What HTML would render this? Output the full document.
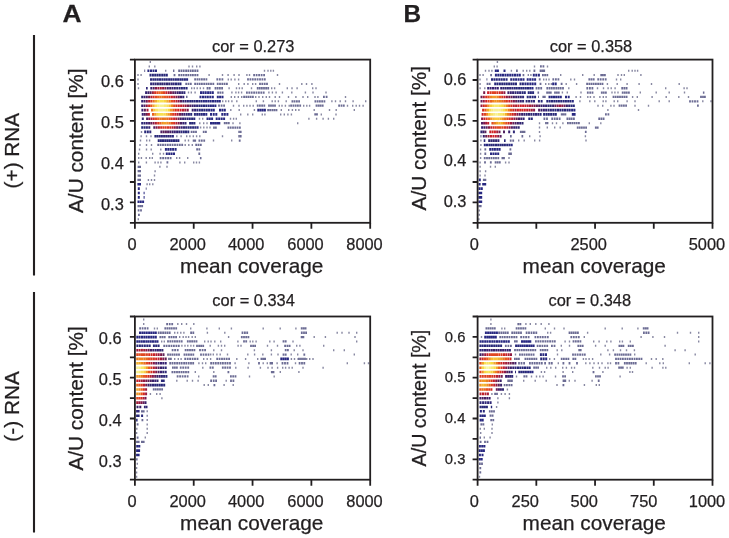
<!DOCTYPE html>
<html><head><meta charset="utf-8"><style>
html,body{margin:0;padding:0;background:#fff;width:729px;height:538px;overflow:hidden}
svg{display:block;will-change:transform}
text{font-family:"Liberation Sans",sans-serif;fill:#221f20;stroke:#221f20;stroke-width:0.25px}
</style></head><body>
<svg width="729" height="538" viewBox="0 0 729 538">
<text transform="translate(62.5,21.8) scale(1.09,1)" font-size="24.2" font-weight="bold">A</text>
<text x="403.5" y="21.7" font-size="24.4" font-weight="bold">B</text>
<text transform="translate(18.8,150.6) rotate(-90)" text-anchor="middle" font-size="20.8">(+) RNA</text>
<text transform="translate(18.8,406.4) rotate(-90)" text-anchor="middle" font-size="20.8">(-) RNA</text>
<path d="M34 35V275.6M34 292.1V532.6" stroke="#221f20" stroke-width="2.1"/>
<path fill="#8888a2" d="M149.6 61.0h1.4v2.0h-1.4zM148.6 65.4h1.4v2.0h-1.4zM154.1 65.4h1.4v2.0h-1.4zM188.3 65.4h1.4v2.0h-1.4zM191.8 65.4h1.4v2.0h-1.4zM196.0 65.4h1.4v2.0h-1.4zM199.2 65.4h1.4v2.0h-1.4zM165.0 69.8h1.4v2.0h-1.4zM263.8 69.8h1.4v2.0h-1.4zM267.3 69.8h1.4v2.0h-1.4zM270.1 69.8h1.4v2.0h-1.4zM272.7 69.8h1.4v2.0h-1.4zM137.3 74.1h1.4v2.0h-1.4zM140.4 74.1h1.4v2.0h-1.4zM208.4 74.1h1.4v2.0h-1.4zM221.8 74.1h1.4v2.0h-1.4zM227.4 74.1h1.4v2.0h-1.4zM233.4 74.1h1.4v2.0h-1.4zM238.3 74.1h1.4v2.0h-1.4zM246.2 74.1h1.4v2.0h-1.4zM248.8 74.1h1.4v2.0h-1.4zM276.8 74.1h1.4v2.0h-1.4zM137.3 78.5h1.4v2.0h-1.4zM227.6 78.5h1.4v2.0h-1.4zM230.5 78.5h1.4v2.0h-1.4zM234.2 78.5h1.4v2.0h-1.4zM237.9 78.5h1.4v2.0h-1.4zM137.3 82.9h1.4v2.0h-1.4zM238.0 82.9h1.4v2.0h-1.4zM243.5 82.9h1.4v2.0h-1.4zM247.2 82.9h1.4v2.0h-1.4zM252.0 82.9h1.4v2.0h-1.4zM254.9 82.9h1.4v2.0h-1.4zM278.8 82.9h1.4v2.0h-1.4zM301.1 82.9h1.4v2.0h-1.4zM305.8 82.9h1.4v2.0h-1.4zM311.2 82.9h1.4v2.0h-1.4zM137.8 87.2h1.4v2.0h-1.4zM191.0 87.2h1.4v2.0h-1.4zM193.6 87.2h1.4v2.0h-1.4zM196.5 87.2h1.4v2.0h-1.4zM199.6 87.2h1.4v2.0h-1.4zM202.8 87.2h1.4v2.0h-1.4zM228.4 87.2h1.4v2.0h-1.4zM235.8 87.2h1.4v2.0h-1.4zM238.7 87.2h1.4v2.0h-1.4zM241.5 87.2h1.4v2.0h-1.4zM250.8 87.2h1.4v2.0h-1.4zM271.0 87.2h1.4v2.0h-1.4zM273.9 87.2h1.4v2.0h-1.4zM286.6 87.2h1.4v2.0h-1.4zM291.3 87.2h1.4v2.0h-1.4zM296.4 87.2h1.4v2.0h-1.4zM312.0 87.2h1.4v2.0h-1.4zM315.3 87.2h1.4v2.0h-1.4zM187.8 91.6h1.4v2.0h-1.4zM190.6 91.6h1.4v2.0h-1.4zM194.4 91.6h1.4v2.0h-1.4zM231.2 91.6h1.4v2.0h-1.4zM235.2 91.6h1.4v2.0h-1.4zM237.9 91.6h1.4v2.0h-1.4zM240.9 91.6h1.4v2.0h-1.4zM268.2 91.6h1.4v2.0h-1.4zM271.7 91.6h1.4v2.0h-1.4zM275.4 91.6h1.4v2.0h-1.4zM281.7 91.6h1.4v2.0h-1.4zM291.1 91.6h1.4v2.0h-1.4zM304.7 91.6h1.4v2.0h-1.4zM312.3 91.6h1.4v2.0h-1.4zM325.3 91.6h1.4v2.0h-1.4zM230.6 96.0h1.4v2.0h-1.4zM234.0 96.0h1.4v2.0h-1.4zM237.6 96.0h1.4v2.0h-1.4zM241.0 96.0h1.4v2.0h-1.4zM255.0 96.0h1.4v2.0h-1.4zM258.3 96.0h1.4v2.0h-1.4zM262.0 96.0h1.4v2.0h-1.4zM265.6 96.0h1.4v2.0h-1.4zM268.8 96.0h1.4v2.0h-1.4zM274.5 96.0h1.4v2.0h-1.4zM278.8 96.0h1.4v2.0h-1.4zM287.8 96.0h1.4v2.0h-1.4zM295.2 96.0h1.4v2.0h-1.4zM302.3 96.0h1.4v2.0h-1.4zM307.0 96.0h1.4v2.0h-1.4zM314.3 96.0h1.4v2.0h-1.4zM317.2 96.0h1.4v2.0h-1.4zM344.8 96.0h1.4v2.0h-1.4zM222.0 100.3h1.4v2.0h-1.4zM225.1 100.3h1.4v2.0h-1.4zM227.9 100.3h1.4v2.0h-1.4zM231.2 100.3h1.4v2.0h-1.4zM236.1 100.3h1.4v2.0h-1.4zM255.6 100.3h1.4v2.0h-1.4zM262.7 100.3h1.4v2.0h-1.4zM271.5 100.3h1.4v2.0h-1.4zM274.5 100.3h1.4v2.0h-1.4zM277.7 100.3h1.4v2.0h-1.4zM285.5 100.3h1.4v2.0h-1.4zM331.2 100.3h1.4v2.0h-1.4zM334.8 100.3h1.4v2.0h-1.4zM339.5 100.3h1.4v2.0h-1.4zM344.8 100.3h1.4v2.0h-1.4zM352.4 100.3h1.4v2.0h-1.4zM365.0 100.3h1.4v2.0h-1.4zM232.8 104.7h1.4v2.0h-1.4zM238.3 104.7h1.4v2.0h-1.4zM243.0 104.7h1.4v2.0h-1.4zM246.2 104.7h1.4v2.0h-1.4zM249.3 104.7h1.4v2.0h-1.4zM252.5 104.7h1.4v2.0h-1.4zM278.6 104.7h1.4v2.0h-1.4zM281.3 104.7h1.4v2.0h-1.4zM284.7 104.7h1.4v2.0h-1.4zM288.5 104.7h1.4v2.0h-1.4zM303.0 104.7h1.4v2.0h-1.4zM306.1 104.7h1.4v2.0h-1.4zM308.9 104.7h1.4v2.0h-1.4zM346.8 104.7h1.4v2.0h-1.4zM352.0 104.7h1.4v2.0h-1.4zM355.5 104.7h1.4v2.0h-1.4zM358.8 104.7h1.4v2.0h-1.4zM362.4 104.7h1.4v2.0h-1.4zM230.1 109.1h1.4v2.0h-1.4zM238.5 109.1h1.4v2.0h-1.4zM253.7 109.1h1.4v2.0h-1.4zM280.6 109.1h1.4v2.0h-1.4zM288.0 109.1h1.4v2.0h-1.4zM291.7 109.1h1.4v2.0h-1.4zM295.0 109.1h1.4v2.0h-1.4zM298.2 109.1h1.4v2.0h-1.4zM313.5 109.1h1.4v2.0h-1.4zM328.8 109.1h1.4v2.0h-1.4zM335.5 109.1h1.4v2.0h-1.4zM353.6 109.1h1.4v2.0h-1.4zM240.0 113.4h1.4v2.0h-1.4zM247.1 113.4h1.4v2.0h-1.4zM252.0 113.4h1.4v2.0h-1.4zM261.6 113.4h1.4v2.0h-1.4zM264.2 113.4h1.4v2.0h-1.4zM280.0 113.4h1.4v2.0h-1.4zM283.6 113.4h1.4v2.0h-1.4zM287.2 113.4h1.4v2.0h-1.4zM290.7 113.4h1.4v2.0h-1.4zM320.6 113.4h1.4v2.0h-1.4zM335.3 113.4h1.4v2.0h-1.4zM198.8 117.8h1.4v2.0h-1.4zM202.0 117.8h1.4v2.0h-1.4zM229.8 117.8h1.4v2.0h-1.4zM232.9 117.8h1.4v2.0h-1.4zM235.6 117.8h1.4v2.0h-1.4zM308.2 117.8h1.4v2.0h-1.4zM315.9 117.8h1.4v2.0h-1.4zM322.4 117.8h1.4v2.0h-1.4zM327.7 117.8h1.4v2.0h-1.4zM333.0 117.8h1.4v2.0h-1.4zM199.1 122.2h1.4v2.0h-1.4zM203.0 122.2h1.4v2.0h-1.4zM206.3 122.2h1.4v2.0h-1.4zM232.3 122.2h1.4v2.0h-1.4zM239.2 122.2h1.4v2.0h-1.4zM297.0 122.2h1.4v2.0h-1.4zM199.9 126.5h1.4v2.0h-1.4zM203.1 126.5h1.4v2.0h-1.4zM206.3 126.5h1.4v2.0h-1.4zM209.3 126.5h1.4v2.0h-1.4zM140.8 130.9h1.4v2.0h-1.4zM140.4 135.3h1.4v2.0h-1.4zM145.8 135.3h1.4v2.0h-1.4zM150.3 135.3h1.4v2.0h-1.4zM176.1 135.3h1.4v2.0h-1.4zM180.4 135.3h1.4v2.0h-1.4zM186.0 135.3h1.4v2.0h-1.4zM189.2 135.3h1.4v2.0h-1.4zM192.6 135.3h1.4v2.0h-1.4zM195.9 135.3h1.4v2.0h-1.4zM199.1 135.3h1.4v2.0h-1.4zM221.8 135.3h1.4v2.0h-1.4zM139.8 139.6h1.4v2.0h-1.4zM146.0 139.6h1.4v2.0h-1.4zM148.9 139.6h1.4v2.0h-1.4zM184.5 139.6h1.4v2.0h-1.4zM187.8 139.6h1.4v2.0h-1.4zM212.8 139.6h1.4v2.0h-1.4zM231.0 139.6h1.4v2.0h-1.4zM139.3 144.0h1.4v2.0h-1.4zM145.8 144.0h1.4v2.0h-1.4zM150.8 144.0h1.4v2.0h-1.4zM184.5 144.0h1.4v2.0h-1.4zM188.1 144.0h1.4v2.0h-1.4zM191.6 144.0h1.4v2.0h-1.4zM138.8 148.4h1.4v2.0h-1.4zM145.8 148.4h1.4v2.0h-1.4zM150.5 148.4h1.4v2.0h-1.4zM160.1 148.4h1.4v2.0h-1.4zM138.0 152.7h1.4v2.0h-1.4zM152.0 152.7h1.4v2.0h-1.4zM159.4 152.7h1.4v2.0h-1.4zM162.8 152.7h1.4v2.0h-1.4zM138.0 157.1h1.4v2.0h-1.4zM140.7 157.1h1.4v2.0h-1.4zM145.5 157.1h1.4v2.0h-1.4zM149.0 157.1h1.4v2.0h-1.4zM151.6 157.1h1.4v2.0h-1.4zM176.0 157.1h1.4v2.0h-1.4zM178.9 157.1h1.4v2.0h-1.4zM187.0 157.1h1.4v2.0h-1.4zM138.0 161.5h1.4v2.0h-1.4zM145.7 161.5h1.4v2.0h-1.4zM154.4 161.5h1.4v2.0h-1.4zM157.4 161.5h1.4v2.0h-1.4zM160.2 161.5h1.4v2.0h-1.4zM179.2 161.5h1.4v2.0h-1.4zM184.0 161.5h1.4v2.0h-1.4zM193.0 161.5h1.4v2.0h-1.4zM195.8 161.5h1.4v2.0h-1.4zM198.7 161.5h1.4v2.0h-1.4zM159.2 165.8h1.4v2.0h-1.4zM166.3 165.8h1.4v2.0h-1.4zM154.4 170.2h1.4v2.0h-1.4zM153.8 174.6h1.4v2.0h-1.4zM147.7 178.9h1.4v2.0h-1.4zM150.8 178.9h1.4v2.0h-1.4zM153.8 178.9h1.4v2.0h-1.4zM146.4 183.3h1.4v2.0h-1.4zM149.0 183.3h1.4v2.0h-1.4zM152.1 183.3h1.4v2.0h-1.4zM137.6 218.2h1.4v2.0h-1.4z"/>
<path fill="#6c6c94" d="M144.2 69.6h1.0v2.3h-1.0zM173.0 69.6h1.4v2.3h-1.4zM178.2 69.6h1.8v2.3h-1.8zM180.5 69.6h1.8v2.3h-1.8zM182.8 69.6h1.8v2.3h-1.8zM185.2 69.6h1.8v2.3h-1.8zM187.4 69.6h1.8v2.3h-1.8zM189.8 69.6h1.8v2.3h-1.8zM192.0 69.6h1.8v2.3h-1.8zM194.3 69.6h1.8v2.3h-1.8zM196.6 69.6h1.8v2.3h-1.8zM173.6 74.0h1.8v2.3h-1.8zM178.2 74.0h1.8v2.3h-1.8zM180.5 74.0h1.8v2.3h-1.8zM182.8 74.0h1.8v2.3h-1.8zM185.2 74.0h1.8v2.3h-1.8zM187.4 74.0h1.8v2.3h-1.8zM189.8 74.0h1.8v2.3h-1.8zM192.0 74.0h1.8v2.3h-1.8zM194.3 74.0h1.8v2.3h-1.8zM196.6 74.0h1.8v2.3h-1.8zM253.2 74.0h1.8v2.3h-1.8zM255.7 74.0h1.8v2.3h-1.8zM258.2 74.0h1.8v2.3h-1.8zM260.7 74.0h1.8v2.3h-1.8zM263.2 74.0h1.8v2.3h-1.8zM194.2 78.3h1.8v2.3h-1.8zM196.5 78.3h1.8v2.3h-1.8zM198.7 78.3h1.8v2.3h-1.8zM201.0 78.3h1.8v2.3h-1.8zM203.2 78.3h1.8v2.3h-1.8zM205.5 78.3h1.8v2.3h-1.8zM216.4 78.3h1.8v2.3h-1.8zM218.9 78.3h1.8v2.3h-1.8zM221.5 78.3h1.8v2.3h-1.8zM247.1 78.3h1.8v2.3h-1.8zM249.5 78.3h1.8v2.3h-1.8zM251.9 78.3h1.8v2.3h-1.8zM254.3 78.3h1.8v2.3h-1.8zM256.7 78.3h1.8v2.3h-1.8zM259.1 78.3h1.8v2.3h-1.8zM261.5 78.3h1.8v2.3h-1.8zM263.9 78.3h1.8v2.3h-1.8zM185.3 82.7h1.8v2.3h-1.8zM187.6 82.7h1.8v2.3h-1.8zM189.9 82.7h1.8v2.3h-1.8zM194.2 82.7h1.8v2.3h-1.8zM196.5 82.7h1.8v2.3h-1.8zM198.8 82.7h1.8v2.3h-1.8zM201.0 82.7h1.8v2.3h-1.8zM203.3 82.7h1.8v2.3h-1.8zM205.6 82.7h1.8v2.3h-1.8zM207.8 82.7h1.8v2.3h-1.8zM210.1 82.7h1.8v2.3h-1.8zM212.4 82.7h1.8v2.3h-1.8zM216.8 82.7h1.8v2.3h-1.8zM219.1 82.7h1.8v2.3h-1.8zM221.4 82.7h1.8v2.3h-1.8zM223.7 82.7h1.8v2.3h-1.8zM226.0 82.7h1.8v2.3h-1.8zM259.1 82.7h1.8v2.3h-1.8zM261.4 82.7h1.8v2.3h-1.8zM263.8 82.7h1.8v2.3h-1.8zM266.1 82.7h1.8v2.3h-1.8zM206.6 87.1h1.8v2.3h-1.8zM208.8 87.1h1.8v2.3h-1.8zM214.6 87.1h1.8v2.3h-1.8zM216.8 87.1h1.8v2.3h-1.8zM219.0 87.1h1.8v2.3h-1.8zM221.2 87.1h1.8v2.3h-1.8zM256.8 87.1h1.8v2.3h-1.8zM258.9 87.1h1.8v2.3h-1.8zM261.0 87.1h1.8v2.3h-1.8zM263.1 87.1h1.8v2.3h-1.8zM265.2 87.1h1.8v2.3h-1.8zM267.3 87.1h1.8v2.3h-1.8zM217.2 91.4h1.8v2.3h-1.8zM219.4 91.4h1.8v2.3h-1.8zM221.7 91.4h1.8v2.3h-1.8zM246.0 91.4h1.8v2.3h-1.8zM248.4 91.4h1.8v2.3h-1.8zM250.8 91.4h1.8v2.3h-1.8zM253.2 91.4h1.8v2.3h-1.8zM255.6 91.4h1.8v2.3h-1.8zM258.0 91.4h1.8v2.3h-1.8zM260.4 91.4h1.8v2.3h-1.8zM262.8 91.4h1.8v2.3h-1.8zM186.0 95.8h1.5v2.3h-1.5zM243.2 95.8h1.8v2.3h-1.8zM245.4 95.8h1.8v2.3h-1.8zM247.6 95.8h1.8v2.3h-1.8zM249.8 95.8h1.8v2.3h-1.8zM252.0 95.8h1.8v2.3h-1.8zM323.0 95.8h1.8v2.3h-1.8zM325.7 95.8h1.8v2.3h-1.8zM291.5 100.2h1.8v2.3h-1.8zM293.7 100.2h1.8v2.3h-1.8zM296.0 100.2h1.8v2.3h-1.8zM298.2 100.2h1.8v2.3h-1.8zM314.5 100.2h1.8v2.3h-1.8zM316.8 100.2h1.8v2.3h-1.8zM319.0 100.2h1.8v2.3h-1.8zM321.2 100.2h1.8v2.3h-1.8zM323.5 100.2h1.8v2.3h-1.8zM218.1 104.5h1.8v2.3h-1.8zM220.7 104.5h1.8v2.3h-1.8zM223.2 104.5h1.8v2.3h-1.8zM256.8 104.5h1.8v2.3h-1.8zM259.0 104.5h1.8v2.3h-1.8zM261.2 104.5h1.8v2.3h-1.8zM263.4 104.5h1.8v2.3h-1.8zM268.1 104.5h1.8v2.3h-1.8zM270.1 104.5h1.8v2.3h-1.8zM272.1 104.5h1.8v2.3h-1.8zM274.1 104.5h1.8v2.3h-1.8zM290.2 104.5h1.8v2.3h-1.8zM292.5 104.5h1.8v2.3h-1.8zM294.8 104.5h1.8v2.3h-1.8zM297.0 104.5h1.8v2.3h-1.8zM299.3 104.5h1.8v2.3h-1.8zM315.6 104.5h1.8v2.3h-1.8zM317.7 104.5h1.8v2.3h-1.8zM319.7 104.5h1.8v2.3h-1.8zM321.8 104.5h1.8v2.3h-1.8zM338.2 104.5h1.8v2.3h-1.8zM340.6 104.5h1.8v2.3h-1.8zM342.9 104.5h1.8v2.3h-1.8zM267.2 108.9h1.8v2.3h-1.8zM269.2 108.9h1.8v2.3h-1.8zM271.4 108.9h1.8v2.3h-1.8zM273.5 108.9h1.8v2.3h-1.8zM275.6 108.9h1.8v2.3h-1.8zM314.3 113.3h1.8v2.3h-1.8zM316.1 113.3h1.8v2.3h-1.8zM223.8 122.0h1.8v2.3h-1.8zM225.8 122.0h1.8v2.3h-1.8zM227.9 122.0h1.8v2.3h-1.8zM213.1 126.4h1.8v2.3h-1.8zM215.0 126.4h1.8v2.3h-1.8zM227.5 126.4h1.8v2.3h-1.8zM229.8 126.4h1.8v2.3h-1.8zM232.1 126.4h1.8v2.3h-1.8zM234.4 126.4h1.8v2.3h-1.8zM236.7 126.4h1.8v2.3h-1.8zM239.0 126.4h1.8v2.3h-1.8zM190.7 130.7h1.8v2.3h-1.8zM192.9 130.7h1.8v2.3h-1.8zM195.1 130.7h1.8v2.3h-1.8zM202.8 130.7h1.8v2.3h-1.8zM205.0 130.7h1.8v2.3h-1.8zM238.3 130.7h1.6v2.3h-1.6zM240.0 130.7h1.6v2.3h-1.6zM238.3 135.1h1.6v2.3h-1.6zM240.0 135.1h1.6v2.3h-1.6zM192.7 139.5h1.7v2.3h-1.7zM194.4 139.5h1.7v2.3h-1.7zM198.5 139.5h1.8v2.3h-1.8zM200.9 139.5h1.8v2.3h-1.8zM203.3 139.5h1.8v2.3h-1.8zM238.8 139.5h1.8v2.3h-1.8zM157.3 143.8h1.8v2.3h-1.8zM159.7 143.8h1.8v2.3h-1.8zM162.1 143.8h1.8v2.3h-1.8zM164.5 143.8h1.8v2.3h-1.8zM166.9 143.8h1.8v2.3h-1.8zM169.3 143.8h1.8v2.3h-1.8zM171.7 143.8h1.8v2.3h-1.8zM174.1 143.8h1.8v2.3h-1.8zM176.5 143.8h1.8v2.3h-1.8zM178.9 143.8h1.8v2.3h-1.8zM181.3 143.8h1.8v2.3h-1.8zM195.3 143.8h1.8v2.3h-1.8zM197.6 143.8h1.8v2.3h-1.8zM199.9 143.8h1.8v2.3h-1.8zM196.2 148.2h1.8v2.3h-1.8zM198.4 148.2h1.8v2.3h-1.8zM198.4 152.6h1.8v2.3h-1.8zM159.7 156.9h1.8v2.3h-1.8zM162.2 156.9h1.8v2.3h-1.8zM164.7 156.9h1.8v2.3h-1.8zM167.2 156.9h1.8v2.3h-1.8zM169.7 156.9h1.8v2.3h-1.8zM199.9 156.9h1.6v2.3h-1.6zM166.5 161.3h1.8v2.3h-1.8zM137.6 165.7h1.7v2.3h-1.7zM139.3 165.7h1.7v2.3h-1.7zM137.6 170.0h1.7v2.3h-1.7zM139.3 170.0h1.7v2.3h-1.7zM137.6 174.4h1.7v2.3h-1.7zM139.3 174.4h1.7v2.3h-1.7zM137.4 178.8h1.8v2.3h-1.8zM139.2 178.8h1.8v2.3h-1.8zM145.7 187.5h1.0v2.3h-1.0zM137.5 205.0h1.8v2.3h-1.8zM139.4 205.0h1.8v2.3h-1.8zM141.3 205.0h1.8v2.3h-1.8zM137.7 209.3h1.8v2.3h-1.8zM140.1 209.3h1.8v2.3h-1.8zM138.0 213.7h1.8v2.3h-1.8z"/>
<path fill="#282880" d="M147.4 69.5h2.0v2.6h-2.0zM150.0 69.5h2.0v2.6h-2.0zM152.5 69.5h2.0v2.6h-2.0zM155.0 69.5h2.0v2.6h-2.0zM186.1 78.2h2.0v2.6h-2.0zM200.0 91.3h2.0v2.6h-2.0zM202.3 91.3h2.0v2.6h-2.0zM204.7 91.3h2.0v2.6h-2.0zM207.1 91.3h2.0v2.6h-2.0zM209.4 91.3h2.0v2.6h-2.0zM211.8 91.3h2.0v2.6h-2.0zM199.5 95.7h2.0v2.6h-2.0zM202.0 95.7h2.0v2.6h-2.0zM204.4 95.7h2.0v2.6h-2.0zM206.8 95.7h2.0v2.6h-2.0zM209.3 95.7h2.0v2.6h-2.0zM211.8 95.7h2.0v2.6h-2.0zM216.8 95.7h2.0v2.6h-2.0zM219.1 95.7h2.0v2.6h-2.0zM221.5 95.7h2.0v2.6h-2.0zM202.9 100.0h2.0v2.6h-2.0zM205.1 100.0h2.0v2.6h-2.0zM207.4 100.0h2.0v2.6h-2.0zM209.7 100.0h2.0v2.6h-2.0zM212.0 100.0h2.0v2.6h-2.0zM214.3 100.0h2.0v2.6h-2.0zM216.6 100.0h2.0v2.6h-2.0zM218.8 100.0h2.0v2.6h-2.0zM207.6 104.4h2.0v2.6h-2.0zM209.9 104.4h2.0v2.6h-2.0zM212.1 104.4h2.0v2.6h-2.0zM214.4 104.4h2.0v2.6h-2.0zM208.1 108.8h2.0v2.6h-2.0zM210.5 108.8h2.0v2.6h-2.0zM212.8 108.8h2.0v2.6h-2.0zM219.0 108.8h2.0v2.6h-2.0zM221.4 108.8h2.0v2.6h-2.0zM223.8 108.8h2.0v2.6h-2.0zM257.3 108.8h2.0v2.6h-2.0zM259.5 108.8h2.0v2.6h-2.0zM261.7 108.8h2.0v2.6h-2.0zM263.9 108.8h2.0v2.6h-2.0zM203.0 113.1h2.0v2.6h-2.0zM205.3 113.1h2.0v2.6h-2.0zM210.0 113.1h2.0v2.6h-2.0zM212.7 113.1h2.0v2.6h-2.0zM215.3 113.1h2.0v2.6h-2.0zM221.3 113.1h2.0v2.6h-2.0zM223.8 113.1h2.0v2.6h-2.0zM226.4 113.1h2.0v2.6h-2.0zM206.5 117.5h2.0v2.6h-2.0zM208.8 117.5h2.0v2.6h-2.0zM211.1 117.5h2.0v2.6h-2.0zM215.7 117.5h2.0v2.6h-2.0zM218.2 117.5h2.0v2.6h-2.0zM220.7 117.5h2.0v2.6h-2.0zM223.1 117.5h2.0v2.6h-2.0zM210.0 121.9h2.0v2.6h-2.0zM212.1 121.9h2.0v2.6h-2.0zM214.2 121.9h2.0v2.6h-2.0zM216.3 121.9h2.0v2.6h-2.0zM218.3 121.9h2.0v2.6h-2.0zM196.6 126.2h2.0v2.6h-2.0zM164.9 148.1h2.0v2.6h-2.0zM167.3 148.1h2.0v2.6h-2.0zM169.7 148.1h2.0v2.6h-2.0zM172.1 148.1h2.0v2.6h-2.0zM174.6 148.1h2.0v2.6h-2.0zM165.8 152.4h2.0v2.6h-2.0zM168.2 152.4h2.0v2.6h-2.0zM170.6 152.4h2.0v2.6h-2.0zM173.0 152.4h2.0v2.6h-2.0zM137.4 183.0h1.8v2.6h-1.8zM139.2 183.0h1.8v2.6h-1.8zM137.8 187.3h2.0v2.6h-2.0zM137.8 191.7h2.0v2.6h-2.0zM143.6 191.7h1.0v2.6h-1.0zM137.8 196.1h2.0v2.6h-2.0zM143.6 196.1h1.0v2.6h-1.0zM137.5 200.4h2.0v2.6h-2.0zM139.8 200.4h2.0v2.6h-2.0zM142.1 200.4h2.0v2.6h-2.0z"/>
<path fill="#282878" d="M149.5 73.8h2.0v2.6h-2.0zM151.9 73.8h2.0v2.6h-2.0zM154.2 73.8h2.0v2.6h-2.0zM156.5 73.8h2.0v2.6h-2.0zM158.8 73.8h2.0v2.6h-2.0zM161.2 73.8h2.0v2.6h-2.0zM163.5 73.8h2.0v2.6h-2.0zM165.8 73.8h2.0v2.6h-2.0zM150.0 78.2h2.0v2.6h-2.0zM152.3 78.2h2.0v2.6h-2.0zM154.5 78.2h2.0v2.6h-2.0zM156.8 78.2h2.0v2.6h-2.0zM159.0 78.2h2.0v2.6h-2.0zM161.3 78.2h2.0v2.6h-2.0zM163.6 78.2h2.0v2.6h-2.0zM165.8 78.2h2.0v2.6h-2.0zM168.1 78.2h2.0v2.6h-2.0zM170.3 78.2h2.0v2.6h-2.0zM172.6 78.2h2.0v2.6h-2.0zM174.9 78.2h2.0v2.6h-2.0zM177.1 78.2h2.0v2.6h-2.0zM179.4 78.2h2.0v2.6h-2.0zM181.6 78.2h2.0v2.6h-2.0zM183.9 78.2h2.0v2.6h-2.0zM175.0 82.6h2.0v2.6h-2.0zM177.3 82.6h2.0v2.6h-2.0zM179.5 82.6h2.0v2.6h-2.0zM180.9 86.9h2.0v2.6h-2.0zM183.2 86.9h2.0v2.6h-2.0zM185.6 86.9h2.0v2.6h-2.0zM189.2 100.0h2.0v2.6h-2.0zM191.4 100.0h2.0v2.6h-2.0zM193.7 100.0h2.0v2.6h-2.0zM196.0 100.0h2.0v2.6h-2.0zM198.3 100.0h2.0v2.6h-2.0zM200.6 100.0h2.0v2.6h-2.0zM198.4 104.4h2.0v2.6h-2.0zM200.7 104.4h2.0v2.6h-2.0zM203.0 104.4h2.0v2.6h-2.0zM205.3 104.4h2.0v2.6h-2.0zM198.8 108.8h2.0v2.6h-2.0zM201.1 108.8h2.0v2.6h-2.0zM203.4 108.8h2.0v2.6h-2.0zM205.8 108.8h2.0v2.6h-2.0zM190.2 113.1h2.0v2.6h-2.0zM193.9 113.1h2.0v2.6h-2.0zM196.2 113.1h2.0v2.6h-2.0zM198.5 113.1h2.0v2.6h-2.0zM200.8 113.1h2.0v2.6h-2.0zM188.8 117.5h2.0v2.6h-2.0zM191.1 117.5h2.0v2.6h-2.0zM193.3 117.5h2.0v2.6h-2.0zM189.1 121.9h2.0v2.6h-2.0zM191.2 121.9h2.0v2.6h-2.0zM193.4 121.9h2.0v2.6h-2.0zM141.2 126.2h2.0v2.6h-2.0zM143.6 126.2h2.0v2.6h-2.0zM187.5 126.2h2.0v2.6h-2.0zM189.8 126.2h2.0v2.6h-2.0zM192.1 126.2h2.0v2.6h-2.0zM194.4 126.2h2.0v2.6h-2.0zM144.2 130.6h2.0v2.6h-2.0zM146.8 130.6h2.0v2.6h-2.0zM182.8 130.6h2.0v2.6h-2.0zM185.0 130.6h2.0v2.6h-2.0zM187.3 130.6h2.0v2.6h-2.0zM154.4 135.0h2.0v2.6h-2.0zM156.6 135.0h2.0v2.6h-2.0zM171.9 135.0h2.0v2.6h-2.0zM157.7 139.3h2.0v2.6h-2.0zM159.9 139.3h2.0v2.6h-2.0zM162.0 139.3h2.0v2.6h-2.0zM164.2 139.3h2.0v2.6h-2.0zM166.4 139.3h2.0v2.6h-2.0zM168.6 139.3h2.0v2.6h-2.0zM170.8 139.3h2.0v2.6h-2.0zM173.0 139.3h2.0v2.6h-2.0zM175.2 139.3h2.0v2.6h-2.0zM177.4 139.3h2.0v2.6h-2.0z"/>
<path fill="#302878" d="M150.1 82.6h2.0v2.6h-2.0zM152.4 82.6h2.0v2.6h-2.0zM170.5 82.6h2.0v2.6h-2.0zM172.7 82.6h2.0v2.6h-2.0zM146.0 86.9h1.7v2.6h-1.7zM178.6 86.9h2.0v2.6h-2.0zM183.4 91.3h2.0v2.6h-2.0zM186.9 100.0h2.0v2.6h-2.0zM196.1 104.4h2.0v2.6h-2.0zM196.4 108.8h2.0v2.6h-2.0zM187.9 113.1h2.0v2.6h-2.0zM186.6 117.5h2.0v2.6h-2.0zM141.2 121.9h2.0v2.6h-2.0zM145.9 126.2h2.0v2.6h-2.0zM185.2 126.2h2.0v2.6h-2.0zM149.3 130.6h2.0v2.6h-2.0zM180.5 130.6h2.0v2.6h-2.0zM158.7 135.0h2.0v2.6h-2.0zM160.9 135.0h2.0v2.6h-2.0zM163.1 135.0h2.0v2.6h-2.0zM165.3 135.0h2.0v2.6h-2.0zM167.5 135.0h2.0v2.6h-2.0zM169.7 135.0h2.0v2.6h-2.0z"/>
<path fill="#302870" d="M154.6 82.6h2.0v2.6h-2.0zM156.9 82.6h2.0v2.6h-2.0zM159.2 82.6h2.0v2.6h-2.0zM161.4 82.6h2.0v2.6h-2.0zM163.7 82.6h2.0v2.6h-2.0zM166.0 82.6h2.0v2.6h-2.0zM168.2 82.6h2.0v2.6h-2.0zM176.2 86.9h2.0v2.6h-2.0zM181.2 91.3h2.0v2.6h-2.0zM141.2 95.7h2.0v2.6h-2.0zM185.7 113.1h2.0v2.6h-2.0zM141.8 117.5h2.0v2.6h-2.0zM184.3 117.5h2.0v2.6h-2.0zM143.5 121.9h2.0v2.6h-2.0zM184.5 121.9h2.0v2.6h-2.0zM183.0 126.2h2.0v2.6h-2.0zM178.3 130.6h2.0v2.6h-2.0z"/>
<path fill="#382070" d="M150.3 86.9h2.0v2.6h-2.0zM171.5 86.9h2.0v2.6h-2.0zM143.5 95.7h2.0v2.6h-2.0zM141.2 104.4h2.0v2.6h-2.0zM141.4 108.8h2.0v2.6h-2.0zM141.7 113.1h2.0v2.6h-2.0zM183.4 113.1h2.0v2.6h-2.0zM182.1 117.5h2.0v2.6h-2.0zM145.8 121.9h2.0v2.6h-2.0zM182.3 121.9h2.0v2.6h-2.0zM180.7 126.2h2.0v2.6h-2.0zM173.8 130.6h2.0v2.6h-2.0z"/>
<path fill="#502060" d="M152.7 86.9h2.0v2.6h-2.0zM143.5 104.4h2.0v2.6h-2.0zM189.3 104.4h2.0v2.6h-2.0zM146.1 117.5h2.0v2.6h-2.0zM153.3 126.2h2.0v2.6h-2.0zM160.4 130.6h2.0v2.6h-2.0zM167.1 130.6h2.0v2.6h-2.0z"/>
<path fill="#801848" d="M155.0 86.9h2.0v2.6h-2.0zM169.9 91.3h2.0v2.6h-2.0zM175.5 95.7h2.0v2.6h-2.0zM177.7 121.9h2.0v2.6h-2.0zM155.6 126.2h2.0v2.6h-2.0z"/>
<path fill="#981840" d="M157.4 86.9h2.0v2.6h-2.0zM167.7 91.3h2.0v2.6h-2.0z"/>
<path fill="#a02038" d="M159.8 86.9h2.0v2.6h-2.0zM151.9 91.3h2.0v2.6h-2.0zM184.3 108.8h2.0v2.6h-2.0zM176.7 113.1h2.0v2.6h-2.0zM175.3 117.5h2.0v2.6h-2.0z"/>
<path fill="#901840" d="M162.1 86.9h2.0v2.6h-2.0zM145.8 104.4h2.0v2.6h-2.0zM184.7 104.4h2.0v2.6h-2.0zM173.8 126.2h2.0v2.6h-2.0z"/>
<path fill="#702050" d="M164.4 86.9h2.0v2.6h-2.0zM187.0 104.4h2.0v2.6h-2.0zM179.0 113.1h2.0v2.6h-2.0zM177.6 117.5h2.0v2.6h-2.0z"/>
<path fill="#402068" d="M166.8 86.9h2.0v2.6h-2.0zM143.5 100.0h2.0v2.6h-2.0zM179.8 117.5h2.0v2.6h-2.0zM148.1 121.9h2.0v2.6h-2.0zM178.4 126.2h2.0v2.6h-2.0z"/>
<path fill="#382068" d="M169.2 86.9h2.0v2.6h-2.0zM147.4 91.3h2.0v2.6h-2.0zM176.7 91.3h2.0v2.6h-2.0zM180.0 95.7h2.0v2.6h-2.0zM182.3 100.0h2.0v2.6h-2.0zM191.6 104.4h2.0v2.6h-2.0zM191.7 108.8h2.0v2.6h-2.0zM171.6 130.6h2.0v2.6h-2.0z"/>
<path fill="#302070" d="M173.8 86.9h2.0v2.6h-2.0zM145.1 91.3h2.0v2.6h-2.0zM178.9 91.3h2.0v2.6h-2.0zM182.3 95.7h2.0v2.6h-2.0zM141.2 100.0h2.0v2.6h-2.0zM184.6 100.0h2.0v2.6h-2.0zM193.8 104.4h2.0v2.6h-2.0zM194.1 108.8h2.0v2.6h-2.0zM148.3 126.2h2.0v2.6h-2.0zM176.1 130.6h2.0v2.6h-2.0z"/>
<path fill="#582058" d="M149.6 91.3h2.0v2.6h-2.0zM180.0 100.0h2.0v2.6h-2.0zM162.6 130.6h2.0v2.6h-2.0zM164.9 130.6h2.0v2.6h-2.0z"/>
<path fill="#d83020" d="M154.1 91.3h2.0v2.6h-2.0zM152.6 95.7h2.0v2.6h-2.0zM173.2 100.0h2.0v2.6h-2.0zM174.8 108.8h2.0v2.6h-2.0zM152.8 117.5h2.0v2.6h-2.0zM173.1 121.9h2.0v2.6h-2.0zM167.0 126.2h2.0v2.6h-2.0z"/>
<path fill="#e85020" d="M156.3 91.3h2.3v2.6h-2.3zM170.8 100.0h2.3v2.6h-2.3zM168.5 117.5h2.3v2.6h-2.3z"/>
<path fill="#e86820" d="M158.5 91.3h2.3v2.6h-2.3zM161.6 95.7h2.3v2.6h-2.3zM169.9 113.1h2.3v2.6h-2.3zM157.2 117.5h2.3v2.6h-2.3zM166.2 117.5h2.3v2.6h-2.3z"/>
<path fill="#e86020" d="M160.8 91.3h2.3v2.6h-2.3zM157.1 95.7h2.3v2.6h-2.3zM172.3 108.8h2.4v2.6h-2.4zM152.0 113.1h2.3v2.6h-2.3zM159.3 121.9h2.3v2.6h-2.3z"/>
<path fill="#e04020" d="M163.0 91.3h2.3v2.6h-2.3zM172.1 113.1h2.3v2.6h-2.3z"/>
<path fill="#c82028" d="M165.4 91.3h2.0v2.6h-2.0zM180.1 104.4h2.0v2.6h-2.0z"/>
<path fill="#602058" d="M172.2 91.3h2.0v2.6h-2.0zM143.9 108.8h2.0v2.6h-2.0zM150.3 121.9h2.0v2.6h-2.0z"/>
<path fill="#482060" d="M174.4 91.3h2.0v2.6h-2.0zM145.8 95.7h2.0v2.6h-2.0zM143.8 113.1h2.0v2.6h-2.0zM181.2 113.1h2.0v2.6h-2.0zM180.0 121.9h2.0v2.6h-2.0zM169.3 130.6h2.0v2.6h-2.0z"/>
<path fill="#781848" d="M148.1 95.7h2.0v2.6h-2.0zM186.7 108.8h2.0v2.6h-2.0zM145.9 113.1h2.0v2.6h-2.0z"/>
<path fill="#b02030" d="M150.4 95.7h2.0v2.6h-2.0zM182.4 104.4h2.0v2.6h-2.0zM154.9 121.9h2.0v2.6h-2.0zM175.4 121.9h2.0v2.6h-2.0zM157.9 126.2h2.0v2.6h-2.0z"/>
<path fill="#e04820" d="M154.8 95.7h2.3v2.6h-2.3zM166.2 95.7h2.3v2.6h-2.3zM173.1 104.4h2.3v2.6h-2.3z"/>
<path fill="#e87020" d="M159.3 95.7h2.3v2.6h-2.3zM152.5 100.0h2.3v2.6h-2.3zM161.7 117.5h2.3v2.6h-2.3z"/>
<path fill="#e85820" d="M163.9 95.7h2.3v2.6h-2.3zM150.2 104.4h2.3v2.6h-2.3z"/>
<path fill="#d83820" d="M168.6 95.7h2.0v2.6h-2.0zM150.3 100.0h2.0v2.6h-2.0zM170.8 117.5h2.0v2.6h-2.0zM157.2 121.9h2.0v2.6h-2.0zM162.4 126.2h2.0v2.6h-2.0zM164.7 126.2h2.0v2.6h-2.0z"/>
<path fill="#d02028" d="M170.9 95.7h2.0v2.6h-2.0zM177.8 104.4h2.0v2.6h-2.0zM179.6 108.8h2.0v2.6h-2.0zM174.5 113.1h2.0v2.6h-2.0zM173.1 117.5h2.0v2.6h-2.0z"/>
<path fill="#a82038" d="M173.2 95.7h2.0v2.6h-2.0zM146.5 108.8h2.0v2.6h-2.0z"/>
<path fill="#582060" d="M177.8 95.7h2.0v2.6h-2.0z"/>
<path fill="#781850" d="M145.8 100.0h2.0v2.6h-2.0z"/>
<path fill="#b82030" d="M148.1 100.0h2.0v2.6h-2.0zM175.5 100.0h2.0v2.6h-2.0zM147.9 113.1h2.0v2.6h-2.0zM150.6 117.5h2.0v2.6h-2.0zM171.6 126.2h2.0v2.6h-2.0z"/>
<path fill="#f0a830" d="M154.8 100.0h2.3v2.6h-2.3zM152.5 104.4h2.3v2.6h-2.3z"/>
<path fill="#f8d840" d="M157.1 100.0h2.3v2.6h-2.3zM167.6 108.8h2.4v2.6h-2.4z"/>
<path fill="#f8e050" d="M159.3 100.0h2.3v2.6h-2.3zM161.6 100.0h2.3v2.6h-2.3zM158.7 113.1h2.3v2.6h-2.3zM160.9 113.1h2.3v2.6h-2.3z"/>
<path fill="#f8d040" d="M163.9 100.0h2.3v2.6h-2.3zM156.5 113.1h2.3v2.6h-2.3z"/>
<path fill="#f0b030" d="M166.2 100.0h2.3v2.6h-2.3z"/>
<path fill="#f08020" d="M168.5 100.0h2.3v2.6h-2.3z"/>
<path fill="#881848" d="M177.7 100.0h2.0v2.6h-2.0zM148.3 117.5h2.0v2.6h-2.0zM152.6 121.9h2.0v2.6h-2.0z"/>
<path fill="#d02820" d="M148.1 104.4h2.0v2.6h-2.0zM175.5 104.4h2.0v2.6h-2.0zM177.2 108.8h2.0v2.6h-2.0zM160.2 126.2h2.0v2.6h-2.0zM169.3 126.2h2.0v2.6h-2.0z"/>
<path fill="#f8e058" d="M154.8 104.4h2.3v2.6h-2.3zM166.2 104.4h2.3v2.6h-2.3z"/>
<path fill="#f8f080" d="M157.1 104.4h2.3v2.6h-2.3z"/>
<path fill="#f8f090" d="M159.4 104.4h2.3v2.6h-2.3zM161.7 104.4h2.3v2.6h-2.3zM158.1 108.8h2.4v2.6h-2.4zM160.5 108.8h2.4v2.6h-2.4z"/>
<path fill="#f8e878" d="M164.0 104.4h2.3v2.6h-2.3z"/>
<path fill="#f8c038" d="M168.5 104.4h2.3v2.6h-2.3zM165.4 113.1h2.3v2.6h-2.3z"/>
<path fill="#f08820" d="M170.8 104.4h2.3v2.6h-2.3z"/>
<path fill="#e87820" d="M151.0 108.8h2.4v2.6h-2.4zM159.5 117.5h2.3v2.6h-2.3zM164.0 117.5h2.3v2.6h-2.3zM168.4 121.9h2.3v2.6h-2.3z"/>
<path fill="#f8c838" d="M153.3 108.8h2.4v2.6h-2.4z"/>
<path fill="#f8e868" d="M155.7 108.8h2.4v2.6h-2.4zM165.2 108.8h2.4v2.6h-2.4z"/>
<path fill="#f8f088" d="M162.8 108.8h2.4v2.6h-2.4z"/>
<path fill="#f0a028" d="M169.9 108.8h2.4v2.6h-2.4zM154.2 113.1h2.3v2.6h-2.3zM163.9 121.9h2.3v2.6h-2.3z"/>
<path fill="#c02030" d="M182.0 108.8h2.0v2.6h-2.0z"/>
<path fill="#f8d848" d="M163.2 113.1h2.3v2.6h-2.3z"/>
<path fill="#f09828" d="M167.6 113.1h2.3v2.6h-2.3z"/>
<path fill="#e05020" d="M155.0 117.5h2.3v2.6h-2.3zM170.7 121.9h2.3v2.6h-2.3z"/>
<path fill="#f09020" d="M161.6 121.9h2.3v2.6h-2.3z"/>
<path fill="#f09028" d="M166.2 121.9h2.3v2.6h-2.3z"/>
<path fill="#682058" d="M176.1 126.2h2.0v2.6h-2.0z"/>
<path fill="#8888a2" d="M496.7 61.0h1.4v2.0h-1.4zM493.6 65.4h1.4v2.0h-1.4zM496.4 65.4h1.4v2.0h-1.4zM533.8 65.4h1.4v2.0h-1.4zM546.8 65.4h1.4v2.0h-1.4zM484.8 69.8h1.4v2.0h-1.4zM488.3 69.8h1.4v2.0h-1.4zM491.2 69.8h1.4v2.0h-1.4zM510.7 69.8h1.4v2.0h-1.4zM522.5 69.8h1.4v2.0h-1.4zM526.0 69.8h1.4v2.0h-1.4zM529.1 69.8h1.4v2.0h-1.4zM628.0 69.8h1.4v2.0h-1.4zM631.5 69.8h1.4v2.0h-1.4zM634.3 69.8h1.4v2.0h-1.4zM636.9 69.8h1.4v2.0h-1.4zM479.3 74.1h1.4v2.0h-1.4zM482.4 74.1h1.4v2.0h-1.4zM527.6 74.1h1.4v2.0h-1.4zM530.2 74.1h1.4v2.0h-1.4zM560.0 74.1h1.4v2.0h-1.4zM582.0 74.1h1.4v2.0h-1.4zM593.5 74.1h1.4v2.0h-1.4zM617.3 74.1h1.4v2.0h-1.4zM620.8 74.1h1.4v2.0h-1.4zM623.6 74.1h1.4v2.0h-1.4zM640.2 74.1h1.4v2.0h-1.4zM479.3 78.5h1.4v2.0h-1.4zM543.0 78.5h1.4v2.0h-1.4zM545.6 78.5h1.4v2.0h-1.4zM548.3 78.5h1.4v2.0h-1.4zM570.1 78.5h1.4v2.0h-1.4zM573.8 78.5h1.4v2.0h-1.4zM615.8 78.5h1.4v2.0h-1.4zM620.0 78.5h1.4v2.0h-1.4zM479.4 82.9h1.4v2.0h-1.4zM545.0 82.9h1.4v2.0h-1.4zM548.1 82.9h1.4v2.0h-1.4zM550.7 82.9h1.4v2.0h-1.4zM565.5 82.9h1.4v2.0h-1.4zM575.9 82.9h1.4v2.0h-1.4zM606.7 82.9h1.4v2.0h-1.4zM616.5 82.9h1.4v2.0h-1.4zM626.4 82.9h1.4v2.0h-1.4zM638.4 82.9h1.4v2.0h-1.4zM650.8 82.9h1.4v2.0h-1.4zM678.5 82.9h1.4v2.0h-1.4zM479.4 87.2h1.4v2.0h-1.4zM484.1 87.2h1.4v2.0h-1.4zM568.1 87.2h1.4v2.0h-1.4zM596.8 87.2h1.4v2.0h-1.4zM602.8 87.2h1.4v2.0h-1.4zM607.4 87.2h1.4v2.0h-1.4zM610.5 87.2h1.4v2.0h-1.4zM614.4 87.2h1.4v2.0h-1.4zM665.0 87.2h1.4v2.0h-1.4zM683.4 87.2h1.4v2.0h-1.4zM686.3 87.2h1.4v2.0h-1.4zM561.7 91.6h1.4v2.0h-1.4zM566.6 91.6h1.4v2.0h-1.4zM580.3 91.6h1.4v2.0h-1.4zM611.3 91.6h1.4v2.0h-1.4zM614.2 91.6h1.4v2.0h-1.4zM617.3 91.6h1.4v2.0h-1.4zM639.6 91.6h1.4v2.0h-1.4zM655.5 91.6h1.4v2.0h-1.4zM668.5 91.6h1.4v2.0h-1.4zM683.8 91.6h1.4v2.0h-1.4zM575.4 96.0h1.4v2.0h-1.4zM579.8 96.0h1.4v2.0h-1.4zM587.1 96.0h1.4v2.0h-1.4zM589.7 96.0h1.4v2.0h-1.4zM593.3 96.0h1.4v2.0h-1.4zM599.2 96.0h1.4v2.0h-1.4zM602.6 96.0h1.4v2.0h-1.4zM605.4 96.0h1.4v2.0h-1.4zM631.9 96.0h1.4v2.0h-1.4zM636.6 96.0h1.4v2.0h-1.4zM651.4 96.0h1.4v2.0h-1.4zM665.5 96.0h1.4v2.0h-1.4zM678.1 96.0h1.4v2.0h-1.4zM687.8 96.0h1.4v2.0h-1.4zM579.2 100.3h1.4v2.0h-1.4zM589.1 100.3h1.4v2.0h-1.4zM594.1 100.3h1.4v2.0h-1.4zM602.5 100.3h1.4v2.0h-1.4zM605.2 100.3h1.4v2.0h-1.4zM613.5 100.3h1.4v2.0h-1.4zM617.0 100.3h1.4v2.0h-1.4zM626.4 100.3h1.4v2.0h-1.4zM634.3 100.3h1.4v2.0h-1.4zM658.5 100.3h1.4v2.0h-1.4zM668.5 100.3h1.4v2.0h-1.4zM702.1 100.3h1.4v2.0h-1.4zM710.3 100.3h1.4v2.0h-1.4zM597.3 104.7h1.4v2.0h-1.4zM602.0 104.7h1.4v2.0h-1.4zM610.2 104.7h1.4v2.0h-1.4zM613.3 104.7h1.4v2.0h-1.4zM634.3 104.7h1.4v2.0h-1.4zM647.8 104.7h1.4v2.0h-1.4zM607.2 109.1h1.4v2.0h-1.4zM637.8 109.1h1.4v2.0h-1.4zM538.8 122.2h1.4v2.0h-1.4zM551.8 122.2h1.4v2.0h-1.4zM555.8 122.2h1.4v2.0h-1.4zM562.2 122.2h1.4v2.0h-1.4zM588.6 122.2h1.4v2.0h-1.4zM600.1 122.2h1.4v2.0h-1.4zM538.8 126.5h1.4v2.0h-1.4zM546.6 126.5h1.4v2.0h-1.4zM554.0 126.5h1.4v2.0h-1.4zM559.5 126.5h1.4v2.0h-1.4zM538.8 130.9h1.4v2.0h-1.4zM529.0 135.3h1.4v2.0h-1.4zM539.4 135.3h1.4v2.0h-1.4zM584.7 135.3h1.4v2.0h-1.4zM480.2 139.6h1.4v2.0h-1.4zM518.0 139.6h1.4v2.0h-1.4zM523.5 139.6h1.4v2.0h-1.4zM534.0 139.6h1.4v2.0h-1.4zM538.9 139.6h1.4v2.0h-1.4zM585.3 139.6h1.4v2.0h-1.4zM480.2 144.0h1.4v2.0h-1.4zM479.9 148.4h1.4v2.0h-1.4zM479.9 152.7h1.4v2.0h-1.4zM479.9 157.1h1.4v2.0h-1.4zM508.3 157.1h1.4v2.0h-1.4zM479.4 161.5h1.4v2.0h-1.4zM504.9 161.5h1.4v2.0h-1.4zM508.3 161.5h1.4v2.0h-1.4zM479.4 165.8h1.4v2.0h-1.4zM489.8 165.8h1.4v2.0h-1.4zM494.6 165.8h1.4v2.0h-1.4zM479.4 170.2h1.4v2.0h-1.4zM484.9 170.2h1.4v2.0h-1.4zM479.4 174.6h1.4v2.0h-1.4zM484.3 174.6h1.4v2.0h-1.4zM478.6 209.5h1.4v2.0h-1.4zM478.6 213.8h1.4v2.0h-1.4zM478.2 218.2h1.4v2.0h-1.4z"/>
<path fill="#6c6c94" d="M540.0 65.2h1.8v2.3h-1.8zM542.5 65.2h1.8v2.3h-1.8zM516.0 69.6h1.8v2.3h-1.8zM533.5 69.6h1.8v2.3h-1.8zM539.6 69.6h1.8v2.3h-1.8zM541.5 69.6h1.8v2.3h-1.8zM543.3 69.6h1.8v2.3h-1.8zM490.2 74.0h1.8v2.3h-1.8zM522.6 74.0h1.7v2.3h-1.7zM542.0 74.0h1.8v2.3h-1.8zM544.2 74.0h1.8v2.3h-1.8zM546.4 74.0h1.8v2.3h-1.8zM600.3 74.0h1.8v2.3h-1.8zM602.1 74.0h1.8v2.3h-1.8zM604.0 74.0h1.8v2.3h-1.8zM486.4 78.3h1.0v2.3h-1.0zM538.8 78.3h1.8v2.3h-1.8zM552.4 78.3h1.8v2.3h-1.8zM555.0 78.3h1.8v2.3h-1.8zM557.5 78.3h1.8v2.3h-1.8zM588.4 78.3h1.8v2.3h-1.8zM590.6 78.3h1.8v2.3h-1.8zM592.8 78.3h1.8v2.3h-1.8zM597.3 78.3h1.8v2.3h-1.8zM599.8 78.3h1.8v2.3h-1.8zM602.3 78.3h1.8v2.3h-1.8zM604.8 78.3h1.8v2.3h-1.8zM486.6 82.7h1.8v2.3h-1.8zM488.8 82.7h1.8v2.3h-1.8zM539.6 82.7h1.8v2.3h-1.8zM560.7 82.7h1.8v2.3h-1.8zM586.2 82.7h1.8v2.3h-1.8zM588.4 82.7h1.8v2.3h-1.8zM590.6 82.7h1.8v2.3h-1.8zM592.8 82.7h1.8v2.3h-1.8zM595.0 82.7h1.8v2.3h-1.8zM597.2 82.7h1.8v2.3h-1.8zM599.4 82.7h1.8v2.3h-1.8zM601.6 82.7h1.8v2.3h-1.8zM535.6 87.1h1.8v2.3h-1.8zM537.9 87.1h1.8v2.3h-1.8zM540.3 87.1h1.8v2.3h-1.8zM546.4 87.1h1.8v2.3h-1.8zM548.7 87.1h1.8v2.3h-1.8zM550.9 87.1h1.8v2.3h-1.8zM553.1 87.1h1.8v2.3h-1.8zM555.4 87.1h1.8v2.3h-1.8zM557.6 87.1h1.8v2.3h-1.8zM559.8 87.1h1.8v2.3h-1.8zM562.1 87.1h1.8v2.3h-1.8zM586.4 87.1h1.8v2.3h-1.8zM589.0 87.1h1.8v2.3h-1.8zM591.5 87.1h1.8v2.3h-1.8zM621.3 87.1h1.8v2.3h-1.8zM623.5 87.1h1.8v2.3h-1.8zM625.7 87.1h1.8v2.3h-1.8zM537.5 91.4h1.6v2.3h-1.6zM546.2 91.4h1.8v2.3h-1.8zM548.1 91.4h1.8v2.3h-1.8zM549.9 91.4h1.8v2.3h-1.8zM554.1 91.4h1.8v2.3h-1.8zM556.0 91.4h1.8v2.3h-1.8zM557.9 91.4h1.8v2.3h-1.8zM586.9 91.4h1.8v2.3h-1.8zM589.3 91.4h1.8v2.3h-1.8zM591.6 91.4h1.8v2.3h-1.8zM600.9 91.4h1.8v2.3h-1.8zM602.9 91.4h1.8v2.3h-1.8zM605.0 91.4h1.8v2.3h-1.8zM621.8 91.4h1.8v2.3h-1.8zM623.9 91.4h1.8v2.3h-1.8zM625.9 91.4h1.8v2.3h-1.8zM628.0 91.4h1.8v2.3h-1.8zM702.9 91.4h1.5v2.3h-1.5zM538.0 95.8h1.0v2.3h-1.0zM542.4 95.8h1.7v2.3h-1.7zM544.0 95.8h1.7v2.3h-1.7zM612.6 95.8h1.8v2.3h-1.8zM614.8 95.8h1.8v2.3h-1.8zM617.0 95.8h1.8v2.3h-1.8zM619.1 95.8h1.8v2.3h-1.8zM621.3 95.8h1.8v2.3h-1.8zM623.5 95.8h1.8v2.3h-1.8zM625.7 95.8h1.8v2.3h-1.8zM700.1 95.8h1.8v2.3h-1.8zM702.1 95.8h1.8v2.3h-1.8zM704.0 95.8h1.8v2.3h-1.8zM689.1 100.2h1.8v2.3h-1.8zM691.6 100.2h1.8v2.3h-1.8zM694.1 100.2h1.8v2.3h-1.8zM696.6 100.2h1.8v2.3h-1.8zM618.6 104.5h1.8v2.3h-1.8zM620.8 104.5h1.8v2.3h-1.8zM623.0 104.5h1.8v2.3h-1.8zM625.2 104.5h1.8v2.3h-1.8zM697.0 104.5h1.8v2.3h-1.8zM560.8 113.3h1.8v2.3h-1.8zM562.6 113.3h1.8v2.3h-1.8zM564.5 113.3h1.8v2.3h-1.8zM605.0 113.3h1.8v2.3h-1.8zM607.5 113.3h1.8v2.3h-1.8zM543.5 117.6h1.8v2.3h-1.8zM546.1 117.6h1.8v2.3h-1.8zM551.3 117.6h1.8v2.3h-1.8zM553.8 117.6h1.8v2.3h-1.8zM556.2 117.6h1.8v2.3h-1.8zM558.7 117.6h1.8v2.3h-1.8zM566.5 117.6h1.8v2.3h-1.8zM568.7 117.6h1.8v2.3h-1.8zM570.8 117.6h1.8v2.3h-1.8zM573.0 117.6h1.8v2.3h-1.8zM598.3 117.6h1.8v2.3h-1.8zM600.5 117.6h1.8v2.3h-1.8zM602.7 117.6h1.8v2.3h-1.8zM545.1 122.0h1.6v2.3h-1.6zM546.8 122.0h1.6v2.3h-1.6zM567.0 122.0h1.8v2.3h-1.8zM569.2 122.0h1.8v2.3h-1.8zM571.4 122.0h1.8v2.3h-1.8zM573.6 122.0h1.8v2.3h-1.8zM575.8 122.0h1.8v2.3h-1.8zM578.0 122.0h1.8v2.3h-1.8zM576.8 126.4h1.8v2.3h-1.8zM578.9 126.4h1.8v2.3h-1.8zM581.0 126.4h1.8v2.3h-1.8zM583.1 126.4h1.8v2.3h-1.8zM585.2 126.4h1.8v2.3h-1.8zM594.9 126.4h1.8v2.3h-1.8zM596.8 126.4h1.8v2.3h-1.8zM519.9 130.7h1.8v2.3h-1.8zM521.8 130.7h1.8v2.3h-1.8zM523.6 130.7h1.8v2.3h-1.8zM584.9 130.7h1.7v2.3h-1.7zM480.4 135.1h1.1v2.3h-1.1zM510.0 135.1h1.7v2.3h-1.7zM521.5 135.1h1.7v2.3h-1.7zM509.8 139.5h1.8v2.3h-1.8zM512.3 139.5h1.8v2.3h-1.8zM484.4 148.2h1.8v2.3h-1.8zM509.5 148.2h1.8v2.3h-1.8zM484.4 152.6h1.8v2.3h-1.8zM508.3 152.6h1.8v2.3h-1.8zM510.1 152.6h1.8v2.3h-1.8zM483.8 156.9h1.8v2.3h-1.8zM486.1 156.9h1.8v2.3h-1.8zM488.3 156.9h1.8v2.3h-1.8zM490.6 156.9h1.8v2.3h-1.8zM492.9 156.9h1.8v2.3h-1.8zM495.1 156.9h1.8v2.3h-1.8zM497.4 156.9h1.8v2.3h-1.8zM501.5 156.9h1.7v2.3h-1.7zM503.2 156.9h1.7v2.3h-1.7zM484.1 161.3h1.8v2.3h-1.8zM489.9 161.3h1.8v2.3h-1.8zM494.7 161.3h1.8v2.3h-1.8zM496.8 161.3h1.8v2.3h-1.8zM498.9 161.3h1.8v2.3h-1.8zM482.9 178.8h1.7v2.3h-1.7zM484.6 178.8h1.7v2.3h-1.7zM478.4 205.0h1.6v2.3h-1.6zM480.0 205.0h1.6v2.3h-1.6z"/>
<path fill="#282880" d="M494.8 69.5h2.0v2.6h-2.0zM496.9 69.5h2.0v2.6h-2.0zM503.5 69.5h2.0v2.6h-2.0zM494.9 73.8h2.0v2.6h-2.0zM497.3 73.8h2.0v2.6h-2.0zM499.7 73.8h2.0v2.6h-2.0zM502.0 73.8h2.0v2.6h-2.0zM504.4 73.8h2.0v2.6h-2.0zM506.8 73.8h2.0v2.6h-2.0zM509.2 73.8h2.0v2.6h-2.0zM511.6 73.8h2.0v2.6h-2.0zM514.0 73.8h2.0v2.6h-2.0zM516.4 73.8h2.0v2.6h-2.0zM518.8 73.8h2.0v2.6h-2.0zM532.8 73.8h2.0v2.6h-2.0zM535.3 73.8h2.0v2.6h-2.0zM537.9 73.8h2.0v2.6h-2.0zM515.1 78.2h2.0v2.6h-2.0zM517.6 78.2h2.0v2.6h-2.0zM520.1 78.2h2.0v2.6h-2.0zM522.5 78.2h2.0v2.6h-2.0zM526.7 78.2h2.0v2.6h-2.0zM529.2 78.2h2.0v2.6h-2.0zM531.7 78.2h2.0v2.6h-2.0zM534.1 78.2h2.0v2.6h-2.0zM524.4 82.6h2.0v2.6h-2.0zM526.8 82.6h2.0v2.6h-2.0zM529.3 82.6h2.0v2.6h-2.0zM531.7 82.6h2.0v2.6h-2.0zM534.2 82.6h2.0v2.6h-2.0zM552.2 82.6h2.0v2.6h-2.0zM554.7 82.6h2.0v2.6h-2.0zM529.2 86.9h2.0v2.6h-2.0zM531.5 86.9h2.0v2.6h-2.0zM548.5 95.7h2.0v2.6h-2.0zM550.8 95.7h2.0v2.6h-2.0zM553.0 95.7h2.0v2.6h-2.0zM555.2 95.7h2.0v2.6h-2.0zM557.5 95.7h2.0v2.6h-2.0zM559.8 95.7h2.0v2.6h-2.0zM565.0 95.7h2.0v2.6h-2.0zM567.7 95.7h2.0v2.6h-2.0zM571.8 100.0h2.0v2.6h-2.0zM571.1 108.8h2.0v2.6h-2.0zM573.4 108.8h2.0v2.6h-2.0zM571.8 113.1h1.9v2.6h-1.9zM573.7 113.1h1.9v2.6h-1.9zM483.8 143.7h2.0v2.6h-2.0zM486.0 143.7h2.0v2.6h-2.0zM508.4 143.7h2.0v2.6h-2.0zM510.7 143.7h2.0v2.6h-2.0zM489.2 148.1h2.0v2.6h-2.0zM491.6 148.1h2.0v2.6h-2.0zM493.9 148.1h2.0v2.6h-2.0zM496.3 148.1h2.0v2.6h-2.0zM498.6 148.1h2.0v2.6h-2.0zM490.0 152.4h2.0v2.6h-2.0zM492.4 152.4h2.0v2.6h-2.0zM494.8 152.4h2.0v2.6h-2.0zM497.2 152.4h2.0v2.6h-2.0zM478.8 178.6h2.0v2.6h-2.0zM478.6 183.0h2.0v2.6h-2.0zM482.2 183.0h2.0v2.6h-2.0zM484.2 183.0h2.0v2.6h-2.0zM478.5 187.3h2.0v2.6h-2.0zM480.8 187.3h2.0v2.6h-2.0zM478.4 191.7h1.9v2.6h-1.9zM480.3 191.7h1.9v2.6h-1.9zM478.4 196.1h1.9v2.6h-1.9zM480.3 196.1h1.9v2.6h-1.9zM478.4 200.4h1.9v2.6h-1.9zM480.3 200.4h1.9v2.6h-1.9z"/>
<path fill="#282878" d="M491.0 78.2h2.0v2.6h-2.0zM493.4 78.2h2.0v2.6h-2.0zM495.8 78.2h2.0v2.6h-2.0zM498.3 78.2h2.0v2.6h-2.0zM500.7 78.2h2.0v2.6h-2.0zM503.1 78.2h2.0v2.6h-2.0zM505.6 78.2h2.0v2.6h-2.0zM510.2 78.2h2.0v2.6h-2.0zM512.7 78.2h2.0v2.6h-2.0zM494.2 82.6h2.0v2.6h-2.0zM496.5 82.6h2.0v2.6h-2.0zM498.9 82.6h2.0v2.6h-2.0zM501.2 82.6h2.0v2.6h-2.0zM503.5 82.6h2.0v2.6h-2.0zM505.8 82.6h2.0v2.6h-2.0zM508.1 82.6h2.0v2.6h-2.0zM510.4 82.6h2.0v2.6h-2.0zM512.7 82.6h2.0v2.6h-2.0zM515.0 82.6h2.0v2.6h-2.0zM519.5 82.6h2.0v2.6h-2.0zM521.9 82.6h2.0v2.6h-2.0zM513.6 86.9h2.0v2.6h-2.0zM515.8 86.9h2.0v2.6h-2.0zM518.1 86.9h2.0v2.6h-2.0zM520.3 86.9h2.0v2.6h-2.0zM522.5 86.9h2.0v2.6h-2.0zM524.8 86.9h2.0v2.6h-2.0zM527.0 86.9h2.0v2.6h-2.0zM521.5 91.3h2.0v2.6h-2.0zM523.8 91.3h2.0v2.6h-2.0zM527.7 91.3h2.0v2.6h-2.0zM529.9 91.3h2.0v2.6h-2.0zM532.1 91.3h2.0v2.6h-2.0zM526.7 95.7h2.0v2.6h-2.0zM529.2 95.7h2.0v2.6h-2.0zM531.7 95.7h2.0v2.6h-2.0zM534.1 95.7h2.0v2.6h-2.0zM537.9 100.0h2.0v2.6h-2.0zM540.6 100.0h2.0v2.6h-2.0zM546.3 100.0h2.0v2.6h-2.0zM548.7 100.0h2.0v2.6h-2.0zM551.0 100.0h2.0v2.6h-2.0zM553.3 100.0h2.0v2.6h-2.0zM555.6 100.0h2.0v2.6h-2.0zM557.9 100.0h2.0v2.6h-2.0zM560.2 100.0h2.0v2.6h-2.0zM562.6 100.0h2.0v2.6h-2.0zM564.9 100.0h2.0v2.6h-2.0zM567.2 100.0h2.0v2.6h-2.0zM569.5 100.0h2.0v2.6h-2.0zM570.5 104.4h2.0v2.6h-2.0zM572.8 104.4h2.0v2.6h-2.0zM552.2 108.8h2.0v2.6h-2.0zM554.6 108.8h2.0v2.6h-2.0zM557.0 108.8h2.0v2.6h-2.0zM559.3 108.8h2.0v2.6h-2.0zM561.7 108.8h2.0v2.6h-2.0zM564.0 108.8h2.0v2.6h-2.0zM566.4 108.8h2.0v2.6h-2.0zM568.7 108.8h2.0v2.6h-2.0zM539.6 113.1h2.0v2.6h-2.0zM543.1 113.1h2.0v2.6h-2.0zM545.5 113.1h2.0v2.6h-2.0zM547.8 113.1h2.0v2.6h-2.0zM550.1 113.1h2.0v2.6h-2.0zM552.5 113.1h2.0v2.6h-2.0zM554.8 113.1h2.0v2.6h-2.0zM528.3 117.5h2.0v2.6h-2.0zM530.8 117.5h2.0v2.6h-2.0zM483.7 139.3h1.6v2.6h-1.6zM504.0 139.3h1.6v2.6h-1.6zM488.3 143.7h2.0v2.6h-2.0zM490.5 143.7h2.0v2.6h-2.0zM492.7 143.7h2.0v2.6h-2.0zM495.0 143.7h2.0v2.6h-2.0zM497.2 143.7h2.0v2.6h-2.0zM499.5 143.7h2.0v2.6h-2.0zM501.7 143.7h2.0v2.6h-2.0zM503.9 143.7h2.0v2.6h-2.0zM506.2 143.7h2.0v2.6h-2.0z"/>
<path fill="#302070" d="M487.2 86.9h2.0v2.6h-2.0zM500.2 86.9h2.0v2.6h-2.0zM512.1 91.3h2.0v2.6h-2.0zM517.5 95.7h2.0v2.6h-2.0zM545.1 104.4h2.0v2.6h-2.0zM545.2 108.8h2.0v2.6h-2.0zM523.4 113.1h2.0v2.6h-2.0zM522.6 117.5h2.0v2.6h-2.0zM519.2 121.9h2.0v2.6h-2.0zM515.4 126.2h2.0v2.6h-2.0z"/>
<path fill="#382070" d="M489.6 86.9h2.0v2.6h-2.0zM492.0 86.9h2.0v2.6h-2.0zM494.4 86.9h2.0v2.6h-2.0zM496.8 86.9h2.0v2.6h-2.0zM509.8 91.3h2.0v2.6h-2.0zM519.8 100.0h2.0v2.6h-2.0zM542.8 104.4h2.0v2.6h-2.0zM542.9 108.8h2.0v2.6h-2.0zM520.3 117.5h2.0v2.6h-2.0zM481.1 126.2h2.0v2.6h-2.0zM513.2 126.2h2.0v2.6h-2.0zM508.2 130.6h2.0v2.6h-2.0z"/>
<path fill="#302870" d="M502.4 86.9h2.0v2.6h-2.0zM504.7 86.9h2.0v2.6h-2.0zM514.5 91.3h2.0v2.6h-2.0zM519.8 95.7h2.0v2.6h-2.0zM522.1 100.0h2.0v2.6h-2.0zM525.6 100.0h2.0v2.6h-2.0zM528.1 100.0h2.0v2.6h-2.0zM547.4 104.4h2.0v2.6h-2.0zM549.7 104.4h2.0v2.6h-2.0zM568.2 104.4h2.0v2.6h-2.0zM547.6 108.8h2.0v2.6h-2.0zM525.7 113.1h2.0v2.6h-2.0zM528.0 113.1h2.0v2.6h-2.0zM530.3 113.1h2.0v2.6h-2.0zM521.5 121.9h2.0v2.6h-2.0zM517.7 126.2h2.0v2.6h-2.0zM480.4 130.6h2.0v2.6h-2.0zM488.2 139.3h2.0v2.6h-2.0zM490.5 139.3h2.0v2.6h-2.0zM492.8 139.3h2.0v2.6h-2.0zM495.1 139.3h2.0v2.6h-2.0z"/>
<path fill="#302878" d="M506.9 86.9h2.0v2.6h-2.0zM509.1 86.9h2.0v2.6h-2.0zM511.4 86.9h2.0v2.6h-2.0zM516.8 91.3h2.0v2.6h-2.0zM519.1 91.3h2.0v2.6h-2.0zM522.1 95.7h2.0v2.6h-2.0zM530.6 100.0h2.0v2.6h-2.0zM533.0 100.0h2.0v2.6h-2.0zM549.9 108.8h2.0v2.6h-2.0zM532.7 113.1h2.0v2.6h-2.0zM535.0 113.1h2.0v2.6h-2.0zM537.3 113.1h2.0v2.6h-2.0zM512.9 130.6h2.0v2.6h-2.0zM497.4 139.3h2.0v2.6h-2.0z"/>
<path fill="#781848" d="M483.2 91.3h2.0v2.6h-2.0zM508.3 95.7h2.0v2.6h-2.0zM533.6 104.4h2.0v2.6h-2.0z"/>
<path fill="#d02028" d="M487.1 91.3h2.0v2.6h-2.0zM485.2 100.0h2.0v2.6h-2.0zM508.3 100.0h2.0v2.6h-2.0zM519.8 104.4h2.0v2.6h-2.0zM522.1 104.4h2.0v2.6h-2.0zM516.9 108.8h2.0v2.6h-2.0zM523.8 108.8h2.0v2.6h-2.0zM493.9 130.6h2.0v2.6h-2.0zM492.4 135.0h2.0v2.6h-2.0z"/>
<path fill="#d83820" d="M489.5 91.3h2.0v2.6h-2.0zM496.4 91.3h2.0v2.6h-2.0zM501.3 95.7h2.0v2.6h-2.0zM505.9 100.0h2.0v2.6h-2.0zM494.8 126.2h2.0v2.6h-2.0z"/>
<path fill="#e04020" d="M491.6 91.3h2.4v2.6h-2.4zM493.9 91.3h2.4v2.6h-2.4zM487.5 100.0h2.0v2.6h-2.0zM485.7 117.5h2.0v2.6h-2.0zM501.7 126.2h2.0v2.6h-2.0z"/>
<path fill="#d02820" d="M498.8 91.3h2.0v2.6h-2.0zM482.8 104.4h2.0v2.6h-2.0zM482.1 108.8h2.0v2.6h-2.0zM512.3 108.8h2.0v2.6h-2.0zM519.2 108.8h2.0v2.6h-2.0zM521.5 108.8h2.0v2.6h-2.0zM511.8 113.1h2.0v2.6h-2.0zM507.7 121.9h2.0v2.6h-2.0zM492.6 126.2h2.0v2.6h-2.0zM491.6 130.6h2.0v2.6h-2.0z"/>
<path fill="#b82030" d="M501.1 91.3h2.0v2.6h-2.0zM512.8 104.4h2.0v2.6h-2.0zM526.7 104.4h2.0v2.6h-2.0zM490.3 126.2h2.0v2.6h-2.0zM506.3 126.2h2.0v2.6h-2.0z"/>
<path fill="#901840" d="M503.4 91.3h2.0v2.6h-2.0zM505.9 95.7h2.0v2.6h-2.0zM531.3 104.4h2.0v2.6h-2.0zM481.1 117.5h2.0v2.6h-2.0zM513.4 117.5h2.0v2.6h-2.0zM497.2 135.0h2.0v2.6h-2.0z"/>
<path fill="#402068" d="M507.4 91.3h2.0v2.6h-2.0zM512.9 95.7h2.0v2.6h-2.0z"/>
<path fill="#682050" d="M480.5 95.7h2.0v2.6h-2.0zM515.7 117.5h2.0v2.6h-2.0zM485.2 135.0h2.0v2.6h-2.0z"/>
<path fill="#a82038" d="M482.8 95.7h2.0v2.6h-2.0zM510.6 100.0h2.0v2.6h-2.0zM529.0 104.4h2.0v2.6h-2.0zM496.2 130.6h2.0v2.6h-2.0z"/>
<path fill="#d83020" d="M485.2 95.7h2.0v2.6h-2.0zM510.5 104.4h2.0v2.6h-2.0zM508.8 117.5h2.0v2.6h-2.0zM504.0 126.2h2.0v2.6h-2.0z"/>
<path fill="#e85020" d="M487.3 95.7h2.4v2.6h-2.4z"/>
<path fill="#f08020" d="M489.6 95.7h2.4v2.6h-2.4zM496.5 95.7h2.4v2.6h-2.4zM491.9 100.0h2.4v2.6h-2.4zM505.8 104.4h2.4v2.6h-2.4zM507.5 108.8h2.4v2.6h-2.4zM502.9 121.9h2.4v2.6h-2.4z"/>
<path fill="#f09828" d="M491.9 95.7h2.4v2.6h-2.4zM494.2 95.7h2.4v2.6h-2.4zM490.2 117.5h2.4v2.6h-2.4z"/>
<path fill="#e85820" d="M498.9 95.7h2.4v2.6h-2.4zM484.3 108.8h2.4v2.6h-2.4z"/>
<path fill="#c82028" d="M503.6 95.7h2.0v2.6h-2.0zM517.4 104.4h2.0v2.6h-2.0zM481.6 113.1h2.0v2.6h-2.0zM483.4 117.5h2.0v2.6h-2.0zM489.3 130.6h2.0v2.6h-2.0zM490.0 135.0h2.0v2.6h-2.0z"/>
<path fill="#602058" d="M510.6 95.7h2.0v2.6h-2.0zM515.2 100.0h2.0v2.6h-2.0zM535.9 104.4h2.0v2.6h-2.0zM554.4 104.4h2.0v2.6h-2.0zM563.6 104.4h2.0v2.6h-2.0zM485.7 126.2h2.0v2.6h-2.0z"/>
<path fill="#382068" d="M515.2 95.7h2.0v2.6h-2.0zM517.5 100.0h2.0v2.6h-2.0zM540.5 104.4h2.0v2.6h-2.0zM552.1 104.4h2.0v2.6h-2.0zM565.9 104.4h2.0v2.6h-2.0zM540.5 108.8h2.0v2.6h-2.0zM521.1 113.1h2.0v2.6h-2.0zM516.9 121.9h2.0v2.6h-2.0zM483.4 126.2h2.0v2.6h-2.0zM482.4 130.6h2.0v2.6h-2.0zM482.8 135.0h2.0v2.6h-2.0z"/>
<path fill="#682058" d="M480.5 100.0h2.0v2.6h-2.0zM512.3 121.9h2.0v2.6h-2.0z"/>
<path fill="#981840" d="M482.8 100.0h2.0v2.6h-2.0zM480.5 104.4h2.0v2.6h-2.0zM559.0 104.4h2.0v2.6h-2.0zM510.0 121.9h2.0v2.6h-2.0z"/>
<path fill="#e86020" d="M489.6 100.0h2.4v2.6h-2.4z"/>
<path fill="#f09020" d="M494.2 100.0h2.4v2.6h-2.4zM487.3 104.4h2.4v2.6h-2.4z"/>
<path fill="#f08820" d="M496.5 100.0h2.4v2.6h-2.4zM486.1 113.1h2.4v2.6h-2.4z"/>
<path fill="#e88020" d="M498.9 100.0h2.4v2.6h-2.4zM507.0 113.1h2.4v2.6h-2.4zM493.7 121.9h2.4v2.6h-2.4z"/>
<path fill="#e86820" d="M501.2 100.0h2.4v2.6h-2.4zM487.9 117.5h2.4v2.6h-2.4z"/>
<path fill="#e05020" d="M503.5 100.0h2.4v2.6h-2.4zM485.0 104.4h2.4v2.6h-2.4zM508.1 104.4h2.4v2.6h-2.4zM509.8 108.8h2.4v2.6h-2.4zM491.4 121.9h2.4v2.6h-2.4zM505.2 121.9h2.4v2.6h-2.4z"/>
<path fill="#801848" d="M512.9 100.0h2.0v2.6h-2.0zM516.4 113.1h2.0v2.6h-2.0z"/>
<path fill="#f8c838" d="M489.6 104.4h2.4v2.6h-2.4zM488.4 113.1h2.4v2.6h-2.4zM494.8 117.5h2.4v2.6h-2.4z"/>
<path fill="#f8e058" d="M491.9 104.4h2.4v2.6h-2.4zM498.8 104.4h2.4v2.6h-2.4z"/>
<path fill="#f8e868" d="M494.2 104.4h2.4v2.6h-2.4zM496.5 104.4h2.4v2.6h-2.4zM500.0 113.1h2.4v2.6h-2.4z"/>
<path fill="#f8d840" d="M501.1 104.4h2.4v2.6h-2.4z"/>
<path fill="#f0b030" d="M503.4 104.4h2.4v2.6h-2.4zM504.7 113.1h2.4v2.6h-2.4zM499.4 117.5h2.4v2.6h-2.4zM498.3 121.9h2.4v2.6h-2.4z"/>
<path fill="#b02030" d="M515.1 104.4h2.0v2.6h-2.0zM514.6 108.8h2.0v2.6h-2.0zM528.5 108.8h2.0v2.6h-2.0zM514.1 113.1h2.0v2.6h-2.0z"/>
<path fill="#c02028" d="M524.4 104.4h2.0v2.6h-2.0zM526.2 108.8h2.0v2.6h-2.0zM487.2 121.9h2.0v2.6h-2.0z"/>
<path fill="#502060" d="M538.2 104.4h2.0v2.6h-2.0zM538.1 108.8h2.0v2.6h-2.0zM518.7 113.1h2.0v2.6h-2.0zM481.0 121.9h2.0v2.6h-2.0zM510.9 126.2h2.0v2.6h-2.0zM503.0 130.6h2.0v2.6h-2.0z"/>
<path fill="#881848" d="M556.7 104.4h2.0v2.6h-2.0zM561.3 104.4h2.0v2.6h-2.0zM533.1 108.8h2.0v2.6h-2.0zM508.6 126.2h2.0v2.6h-2.0z"/>
<path fill="#f0a828" d="M486.6 108.8h2.4v2.6h-2.4zM500.6 121.9h2.4v2.6h-2.4z"/>
<path fill="#f8e050" d="M488.9 108.8h2.4v2.6h-2.4zM502.8 108.8h2.4v2.6h-2.4z"/>
<path fill="#f8e880" d="M491.2 108.8h2.4v2.6h-2.4zM493.1 113.1h2.4v2.6h-2.4z"/>
<path fill="#f8f098" d="M493.6 108.8h2.4v2.6h-2.4zM495.9 108.8h2.4v2.6h-2.4z"/>
<path fill="#f8f090" d="M498.2 108.8h2.4v2.6h-2.4z"/>
<path fill="#f8e878" d="M500.5 108.8h2.4v2.6h-2.4zM497.7 113.1h2.4v2.6h-2.4z"/>
<path fill="#f8b830" d="M505.1 108.8h2.4v2.6h-2.4z"/>
<path fill="#a02038" d="M530.8 108.8h2.0v2.6h-2.0zM487.6 135.0h2.0v2.6h-2.0z"/>
<path fill="#e04820" d="M483.8 113.1h2.4v2.6h-2.4zM509.3 113.1h2.4v2.6h-2.4zM506.3 117.5h2.4v2.6h-2.4zM497.0 126.2h2.3v2.6h-2.3zM499.3 126.2h2.3v2.6h-2.3z"/>
<path fill="#f8e060" d="M490.8 113.1h2.4v2.6h-2.4z"/>
<path fill="#f8f088" d="M495.4 113.1h2.4v2.6h-2.4z"/>
<path fill="#f8d848" d="M502.3 113.1h2.4v2.6h-2.4z"/>
<path fill="#f8b838" d="M492.5 117.5h2.4v2.6h-2.4z"/>
<path fill="#f8c038" d="M497.1 117.5h2.4v2.6h-2.4z"/>
<path fill="#f09028" d="M501.7 117.5h2.4v2.6h-2.4z"/>
<path fill="#e87020" d="M504.0 117.5h2.4v2.6h-2.4z"/>
<path fill="#c02030" d="M511.1 117.5h2.0v2.6h-2.0zM494.8 135.0h2.0v2.6h-2.0z"/>
<path fill="#482060" d="M518.0 117.5h2.0v2.6h-2.0zM514.6 121.9h2.0v2.6h-2.0z"/>
<path fill="#781850" d="M483.1 121.9h2.0v2.6h-2.0z"/>
<path fill="#a01838" d="M485.1 121.9h2.0v2.6h-2.0z"/>
<path fill="#f0a028" d="M496.0 121.9h2.4v2.6h-2.4z"/>
<path fill="#881840" d="M488.0 126.2h2.0v2.6h-2.0z"/>
<path fill="#582058" d="M484.4 130.6h2.0v2.6h-2.0z"/>
<path fill="#702050" d="M498.5 130.6h2.0v2.6h-2.0z"/>
<path fill="#582060" d="M499.6 135.0h2.0v2.6h-2.0z"/>
<path fill="#8888a2" d="M143.0 318.6h1.4v2.0h-1.4zM143.0 323.0h1.4v2.0h-1.4zM177.1 323.0h1.4v2.0h-1.4zM181.0 323.0h1.4v2.0h-1.4zM185.8 323.0h1.4v2.0h-1.4zM193.1 323.0h1.4v2.0h-1.4zM153.8 327.4h1.4v2.0h-1.4zM156.6 327.4h1.4v2.0h-1.4zM190.0 327.4h1.4v2.0h-1.4zM206.2 327.4h1.4v2.0h-1.4zM218.6 327.4h1.4v2.0h-1.4zM230.7 327.4h1.4v2.0h-1.4zM262.5 327.4h1.4v2.0h-1.4zM279.5 327.4h1.4v2.0h-1.4zM295.2 327.4h1.4v2.0h-1.4zM174.0 331.7h1.4v2.0h-1.4zM176.9 331.7h1.4v2.0h-1.4zM180.1 331.7h1.4v2.0h-1.4zM183.2 331.7h1.4v2.0h-1.4zM206.7 331.7h1.4v2.0h-1.4zM224.1 331.7h1.4v2.0h-1.4zM336.5 331.7h1.4v2.0h-1.4zM341.3 331.7h1.4v2.0h-1.4zM348.3 331.7h1.4v2.0h-1.4zM356.0 331.7h1.4v2.0h-1.4zM179.0 336.1h1.4v2.0h-1.4zM182.5 336.1h1.4v2.0h-1.4zM185.3 336.1h1.4v2.0h-1.4zM187.9 336.1h1.4v2.0h-1.4zM191.5 336.1h1.4v2.0h-1.4zM194.6 336.1h1.4v2.0h-1.4zM227.9 336.1h1.4v2.0h-1.4zM313.5 336.1h1.4v2.0h-1.4zM324.7 336.1h1.4v2.0h-1.4zM354.3 336.1h1.4v2.0h-1.4zM161.0 340.5h1.4v2.0h-1.4zM163.6 340.5h1.4v2.0h-1.4zM204.0 340.5h1.4v2.0h-1.4zM207.5 340.5h1.4v2.0h-1.4zM210.3 340.5h1.4v2.0h-1.4zM214.1 340.5h1.4v2.0h-1.4zM220.0 340.5h1.4v2.0h-1.4zM237.2 340.5h1.4v2.0h-1.4zM249.5 340.5h1.4v2.0h-1.4zM252.1 340.5h1.4v2.0h-1.4zM255.4 340.5h1.4v2.0h-1.4zM269.1 340.5h1.4v2.0h-1.4zM273.4 340.5h1.4v2.0h-1.4zM292.3 340.5h1.4v2.0h-1.4zM356.0 340.5h1.4v2.0h-1.4zM181.2 344.8h1.4v2.0h-1.4zM184.3 344.8h1.4v2.0h-1.4zM187.1 344.8h1.4v2.0h-1.4zM190.2 344.8h1.4v2.0h-1.4zM192.9 344.8h1.4v2.0h-1.4zM209.5 344.8h1.4v2.0h-1.4zM217.7 344.8h1.4v2.0h-1.4zM220.8 344.8h1.4v2.0h-1.4zM224.0 344.8h1.4v2.0h-1.4zM237.4 344.8h1.4v2.0h-1.4zM240.3 344.8h1.4v2.0h-1.4zM266.8 344.8h1.4v2.0h-1.4zM276.8 344.8h1.4v2.0h-1.4zM296.0 344.8h1.4v2.0h-1.4zM299.2 344.8h1.4v2.0h-1.4zM323.0 344.8h1.4v2.0h-1.4zM213.1 349.2h1.4v2.0h-1.4zM220.8 349.2h1.4v2.0h-1.4zM253.7 349.2h1.4v2.0h-1.4zM270.7 349.2h1.4v2.0h-1.4zM293.5 349.2h1.4v2.0h-1.4zM302.3 349.2h1.4v2.0h-1.4zM333.0 349.2h1.4v2.0h-1.4zM343.6 349.2h1.4v2.0h-1.4zM210.0 353.6h1.4v2.0h-1.4zM212.6 353.6h1.4v2.0h-1.4zM216.2 353.6h1.4v2.0h-1.4zM219.5 353.6h1.4v2.0h-1.4zM226.8 353.6h1.4v2.0h-1.4zM247.1 353.6h1.4v2.0h-1.4zM253.9 353.6h1.4v2.0h-1.4zM262.1 353.6h1.4v2.0h-1.4zM270.7 353.6h1.4v2.0h-1.4zM277.3 353.6h1.4v2.0h-1.4zM290.5 353.6h1.4v2.0h-1.4zM297.0 353.6h1.4v2.0h-1.4zM353.6 353.6h1.4v2.0h-1.4zM174.0 357.9h1.4v2.0h-1.4zM177.6 357.9h1.4v2.0h-1.4zM180.4 357.9h1.4v2.0h-1.4zM203.0 357.9h1.4v2.0h-1.4zM206.5 357.9h1.4v2.0h-1.4zM209.9 357.9h1.4v2.0h-1.4zM236.1 357.9h1.4v2.0h-1.4zM244.9 357.9h1.4v2.0h-1.4zM257.0 357.9h1.4v2.0h-1.4zM290.7 357.9h1.4v2.0h-1.4zM293.8 357.9h1.4v2.0h-1.4zM297.4 357.9h1.4v2.0h-1.4zM306.0 357.9h1.4v2.0h-1.4zM309.0 357.9h1.4v2.0h-1.4zM312.3 357.9h1.4v2.0h-1.4zM198.2 362.3h1.4v2.0h-1.4zM201.8 362.3h1.4v2.0h-1.4zM205.0 362.3h1.4v2.0h-1.4zM234.4 362.3h1.4v2.0h-1.4zM248.2 362.3h1.4v2.0h-1.4zM262.5 362.3h1.4v2.0h-1.4zM266.6 362.3h1.4v2.0h-1.4zM276.4 362.3h1.4v2.0h-1.4zM294.8 362.3h1.4v2.0h-1.4zM346.6 362.3h1.4v2.0h-1.4zM363.7 362.3h1.4v2.0h-1.4zM367.8 362.3h1.4v2.0h-1.4zM202.1 366.7h1.4v2.0h-1.4zM235.1 366.7h1.4v2.0h-1.4zM247.4 366.7h1.4v2.0h-1.4zM259.7 366.7h1.4v2.0h-1.4zM267.3 366.7h1.4v2.0h-1.4zM271.4 366.7h1.4v2.0h-1.4zM276.9 366.7h1.4v2.0h-1.4zM282.0 366.7h1.4v2.0h-1.4zM284.9 366.7h1.4v2.0h-1.4zM288.4 366.7h1.4v2.0h-1.4zM291.5 366.7h1.4v2.0h-1.4zM302.3 366.7h1.4v2.0h-1.4zM322.4 366.7h1.4v2.0h-1.4zM194.6 371.0h1.4v2.0h-1.4zM213.1 371.0h1.4v2.0h-1.4zM279.6 371.0h1.4v2.0h-1.4zM298.2 371.0h1.4v2.0h-1.4zM198.0 375.4h1.4v2.0h-1.4zM248.8 375.4h1.4v2.0h-1.4zM273.5 375.4h1.4v2.0h-1.4zM176.1 379.8h1.4v2.0h-1.4zM186.5 379.8h1.4v2.0h-1.4zM191.8 379.8h1.4v2.0h-1.4zM197.4 379.8h1.4v2.0h-1.4zM225.5 379.8h1.4v2.0h-1.4zM203.5 384.1h1.4v2.0h-1.4zM207.6 384.1h1.4v2.0h-1.4zM223.4 384.1h1.4v2.0h-1.4zM232.5 384.1h1.4v2.0h-1.4zM149.7 392.9h1.4v2.0h-1.4zM156.0 392.9h1.4v2.0h-1.4zM159.4 392.9h1.4v2.0h-1.4zM161.2 397.2h1.4v2.0h-1.4zM146.5 410.3h1.4v2.0h-1.4zM146.5 414.7h1.4v2.0h-1.4zM146.5 419.1h1.4v2.0h-1.4zM146.5 423.4h1.4v2.0h-1.4zM136.1 427.8h1.4v2.0h-1.4zM146.5 427.8h1.4v2.0h-1.4zM135.9 432.1h1.4v2.0h-1.4zM146.5 432.1h1.4v2.0h-1.4zM144.6 436.5h1.4v2.0h-1.4zM136.6 462.7h1.4v2.0h-1.4zM135.9 467.1h1.4v2.0h-1.4zM135.9 471.4h1.4v2.0h-1.4zM135.9 475.8h1.4v2.0h-1.4z"/>
<path fill="#6c6c94" d="M166.2 322.9h1.8v2.3h-1.8zM168.8 322.9h1.8v2.3h-1.8zM171.3 322.9h1.8v2.3h-1.8zM139.2 327.2h1.8v2.3h-1.8zM141.7 327.2h1.8v2.3h-1.8zM144.2 327.2h1.8v2.3h-1.8zM146.7 327.2h1.8v2.3h-1.8zM164.4 327.2h1.8v2.3h-1.8zM166.6 327.2h1.8v2.3h-1.8zM168.8 327.2h1.8v2.3h-1.8zM170.9 327.2h1.8v2.3h-1.8zM173.1 327.2h1.8v2.3h-1.8zM175.3 327.2h1.8v2.3h-1.8zM300.8 327.2h1.8v2.3h-1.8zM302.8 327.2h1.8v2.3h-1.8zM304.7 327.2h1.8v2.3h-1.8zM157.8 331.6h1.8v2.3h-1.8zM160.0 331.6h1.8v2.3h-1.8zM162.2 331.6h1.8v2.3h-1.8zM164.4 331.6h1.8v2.3h-1.8zM166.6 331.6h1.8v2.3h-1.8zM168.8 331.6h1.8v2.3h-1.8zM190.2 331.6h1.8v2.3h-1.8zM192.4 331.6h1.8v2.3h-1.8zM241.6 331.6h1.8v2.3h-1.8zM244.0 331.6h1.8v2.3h-1.8zM246.3 331.6h1.8v2.3h-1.8zM300.9 331.6h1.8v2.3h-1.8zM303.1 331.6h1.8v2.3h-1.8zM305.2 331.6h1.8v2.3h-1.8zM159.4 335.9h1.8v2.3h-1.8zM161.6 335.9h1.8v2.3h-1.8zM163.8 335.9h1.8v2.3h-1.8zM168.3 335.9h1.8v2.3h-1.8zM170.6 335.9h1.8v2.3h-1.8zM172.9 335.9h1.8v2.3h-1.8zM175.2 335.9h1.8v2.3h-1.8zM240.9 335.9h1.8v2.3h-1.8zM243.1 335.9h1.8v2.3h-1.8zM245.3 335.9h1.8v2.3h-1.8zM247.5 335.9h1.8v2.3h-1.8zM300.7 335.9h1.8v2.3h-1.8zM302.5 335.9h1.8v2.3h-1.8zM167.1 340.3h1.8v2.3h-1.8zM169.4 340.3h1.8v2.3h-1.8zM171.7 340.3h1.8v2.3h-1.8zM174.0 340.3h1.8v2.3h-1.8zM176.2 340.3h1.8v2.3h-1.8zM178.5 340.3h1.8v2.3h-1.8zM180.8 340.3h1.8v2.3h-1.8zM186.9 340.3h1.8v2.3h-1.8zM189.1 340.3h1.8v2.3h-1.8zM191.2 340.3h1.8v2.3h-1.8zM193.4 340.3h1.8v2.3h-1.8zM195.6 340.3h1.8v2.3h-1.8zM243.1 340.3h1.8v2.3h-1.8zM245.3 340.3h1.8v2.3h-1.8zM282.6 340.3h1.8v2.3h-1.8zM284.8 340.3h1.8v2.3h-1.8zM163.3 344.7h1.8v2.3h-1.8zM165.7 344.7h1.8v2.3h-1.8zM168.2 344.7h1.8v2.3h-1.8zM170.6 344.7h1.8v2.3h-1.8zM173.0 344.7h1.8v2.3h-1.8zM175.5 344.7h1.8v2.3h-1.8zM177.9 344.7h1.8v2.3h-1.8zM196.1 344.7h1.8v2.3h-1.8zM198.2 344.7h1.8v2.3h-1.8zM200.2 344.7h1.8v2.3h-1.8zM202.3 344.7h1.8v2.3h-1.8zM250.1 344.7h1.8v2.3h-1.8zM252.2 344.7h1.8v2.3h-1.8zM254.2 344.7h1.8v2.3h-1.8zM284.2 344.7h1.8v2.3h-1.8zM286.5 344.7h1.8v2.3h-1.8zM288.7 344.7h1.8v2.3h-1.8zM171.7 349.0h1.8v2.3h-1.8zM174.2 349.0h1.8v2.3h-1.8zM176.8 349.0h1.8v2.3h-1.8zM184.7 349.0h1.8v2.3h-1.8zM186.9 349.0h1.8v2.3h-1.8zM189.1 349.0h1.8v2.3h-1.8zM191.3 349.0h1.8v2.3h-1.8zM193.5 349.0h1.8v2.3h-1.8zM199.1 349.0h1.8v2.3h-1.8zM201.7 349.0h1.8v2.3h-1.8zM204.2 349.0h1.8v2.3h-1.8zM284.8 349.0h1.8v2.3h-1.8zM287.0 349.0h1.8v2.3h-1.8zM167.1 353.4h1.8v2.3h-1.8zM169.3 353.4h1.8v2.3h-1.8zM171.5 353.4h1.8v2.3h-1.8zM173.7 353.4h1.8v2.3h-1.8zM175.9 353.4h1.8v2.3h-1.8zM178.1 353.4h1.8v2.3h-1.8zM183.6 353.4h1.8v2.3h-1.8zM185.8 353.4h1.8v2.3h-1.8zM188.0 353.4h1.8v2.3h-1.8zM190.2 353.4h1.8v2.3h-1.8zM192.4 353.4h1.8v2.3h-1.8zM200.1 353.4h1.8v2.3h-1.8zM202.6 353.4h1.8v2.3h-1.8zM205.1 353.4h1.8v2.3h-1.8zM207.6 353.4h1.8v2.3h-1.8zM282.6 353.4h1.8v2.3h-1.8zM284.8 353.4h1.8v2.3h-1.8zM303.4 353.4h1.8v2.3h-1.8zM168.1 357.8h1.8v2.3h-1.8zM170.0 357.8h1.8v2.3h-1.8zM184.3 357.8h1.8v2.3h-1.8zM186.8 357.8h1.8v2.3h-1.8zM189.2 357.8h1.8v2.3h-1.8zM191.7 357.8h1.8v2.3h-1.8zM194.1 357.8h1.8v2.3h-1.8zM196.6 357.8h1.8v2.3h-1.8zM216.3 357.8h1.8v2.3h-1.8zM218.7 357.8h1.8v2.3h-1.8zM221.1 357.8h1.8v2.3h-1.8zM223.4 357.8h1.8v2.3h-1.8zM225.8 357.8h1.8v2.3h-1.8zM228.2 357.8h1.8v2.3h-1.8zM260.5 357.8h1.8v2.3h-1.8zM262.4 357.8h1.8v2.3h-1.8zM264.2 357.8h1.8v2.3h-1.8zM298.1 357.8h1.8v2.3h-1.8zM300.1 357.8h1.8v2.3h-1.8zM302.1 357.8h1.8v2.3h-1.8zM304.1 357.8h1.8v2.3h-1.8zM169.3 362.1h1.8v2.3h-1.8zM171.6 362.1h1.8v2.3h-1.8zM173.9 362.1h1.8v2.3h-1.8zM176.2 362.1h1.8v2.3h-1.8zM178.5 362.1h1.8v2.3h-1.8zM180.8 362.1h1.8v2.3h-1.8zM183.2 362.1h1.8v2.3h-1.8zM185.4 362.1h1.8v2.3h-1.8zM187.8 362.1h1.8v2.3h-1.8zM190.1 362.1h1.8v2.3h-1.8zM192.3 362.1h1.8v2.3h-1.8zM210.2 362.1h1.8v2.3h-1.8zM212.5 362.1h1.8v2.3h-1.8zM214.9 362.1h1.8v2.3h-1.8zM217.3 362.1h1.8v2.3h-1.8zM219.7 362.1h1.8v2.3h-1.8zM222.0 362.1h1.8v2.3h-1.8zM224.4 362.1h1.8v2.3h-1.8zM226.7 362.1h1.8v2.3h-1.8zM229.1 362.1h1.8v2.3h-1.8zM258.1 362.1h1.8v2.3h-1.8zM269.6 362.1h1.7v2.3h-1.7zM271.3 362.1h1.7v2.3h-1.7zM281.6 362.1h1.8v2.3h-1.8zM284.1 362.1h1.8v2.3h-1.8zM286.6 362.1h1.8v2.3h-1.8zM298.7 362.1h1.8v2.3h-1.8zM301.1 362.1h1.8v2.3h-1.8zM303.4 362.1h1.8v2.3h-1.8zM172.0 366.5h1.8v2.3h-1.8zM174.0 366.5h1.8v2.3h-1.8zM176.0 366.5h1.8v2.3h-1.8zM179.8 366.5h1.8v2.3h-1.8zM182.3 366.5h1.8v2.3h-1.8zM184.8 366.5h1.8v2.3h-1.8zM187.3 366.5h1.8v2.3h-1.8zM209.5 366.5h1.8v2.3h-1.8zM211.9 366.5h1.8v2.3h-1.8zM221.9 366.5h1.8v2.3h-1.8zM224.3 366.5h1.8v2.3h-1.8zM226.7 366.5h1.8v2.3h-1.8zM229.1 366.5h1.8v2.3h-1.8zM171.5 370.9h1.8v2.3h-1.8zM173.8 370.9h1.8v2.3h-1.8zM176.1 370.9h1.8v2.3h-1.8zM178.3 370.9h1.8v2.3h-1.8zM180.6 370.9h1.8v2.3h-1.8zM182.8 370.9h1.8v2.3h-1.8zM185.1 370.9h1.8v2.3h-1.8zM187.4 370.9h1.8v2.3h-1.8zM227.5 370.9h1.8v2.3h-1.8zM270.9 370.9h1.8v2.3h-1.8zM272.6 370.9h1.8v2.3h-1.8zM176.7 375.2h1.8v2.3h-1.8zM179.2 375.2h1.8v2.3h-1.8zM181.7 375.2h1.8v2.3h-1.8zM184.2 375.2h1.8v2.3h-1.8zM186.7 375.2h1.8v2.3h-1.8zM212.7 375.2h1.8v2.3h-1.8zM214.8 375.2h1.8v2.3h-1.8zM230.0 375.2h1.8v2.3h-1.8zM232.3 375.2h1.8v2.3h-1.8zM234.6 375.2h1.8v2.3h-1.8zM210.2 379.6h1.8v2.3h-1.8zM212.8 379.6h1.8v2.3h-1.8zM215.2 379.6h1.8v2.3h-1.8zM230.1 379.6h1.8v2.3h-1.8zM232.5 379.6h1.8v2.3h-1.8zM213.5 384.0h1.8v2.3h-1.8zM152.8 388.3h1.8v2.3h-1.8zM154.9 388.3h1.8v2.3h-1.8zM157.0 388.3h1.8v2.3h-1.8zM159.1 388.3h1.8v2.3h-1.8zM161.2 388.3h1.8v2.3h-1.8zM141.0 410.2h1.8v2.3h-1.8zM142.8 410.2h1.8v2.3h-1.8zM141.5 418.9h1.8v2.3h-1.8zM136.7 423.3h1.8v2.3h-1.8zM136.7 436.4h1.8v2.3h-1.8zM136.1 440.7h1.8v2.3h-1.8zM137.8 440.7h1.8v2.3h-1.8zM141.0 440.7h1.8v2.3h-1.8zM142.8 440.7h1.8v2.3h-1.8zM136.1 458.2h1.5v2.3h-1.5z"/>
<path fill="#282880" d="M139.0 331.4h2.0v2.6h-2.0zM141.3 331.4h2.0v2.6h-2.0zM143.5 331.4h2.0v2.6h-2.0zM145.8 331.4h2.0v2.6h-2.0zM148.1 331.4h2.0v2.6h-2.0zM150.3 331.4h2.0v2.6h-2.0zM152.6 331.4h2.0v2.6h-2.0zM154.8 331.4h2.0v2.6h-2.0zM136.3 335.8h2.0v2.6h-2.0zM138.6 335.8h2.0v2.6h-2.0zM141.0 335.8h2.0v2.6h-2.0zM143.3 335.8h2.0v2.6h-2.0zM145.6 335.8h2.0v2.6h-2.0zM147.9 335.8h2.0v2.6h-2.0zM150.2 335.8h2.0v2.6h-2.0zM152.5 335.8h2.0v2.6h-2.0zM154.8 335.8h2.0v2.6h-2.0zM136.3 340.2h2.0v2.6h-2.0zM138.5 340.2h2.0v2.6h-2.0zM140.8 340.2h2.0v2.6h-2.0zM143.0 340.2h2.0v2.6h-2.0zM145.3 340.2h2.0v2.6h-2.0zM147.5 340.2h2.0v2.6h-2.0zM149.8 340.2h2.0v2.6h-2.0zM152.0 340.2h2.0v2.6h-2.0zM154.3 340.2h2.0v2.6h-2.0zM156.5 340.2h2.0v2.6h-2.0zM280.3 357.6h2.0v2.6h-2.0zM282.5 357.6h2.0v2.6h-2.0zM284.7 357.6h2.0v2.6h-2.0zM286.9 357.6h2.0v2.6h-2.0zM136.2 444.9h2.0v2.6h-2.0zM138.3 444.9h2.0v2.6h-2.0zM136.1 449.3h2.0v2.6h-2.0zM138.1 449.3h2.0v2.6h-2.0zM136.1 453.7h1.8v2.6h-1.8zM137.8 453.7h1.8v2.6h-1.8z"/>
<path fill="#282878" d="M136.4 344.5h2.0v2.6h-2.0zM138.9 344.5h2.0v2.6h-2.0zM141.3 344.5h2.0v2.6h-2.0zM143.8 344.5h2.0v2.6h-2.0zM146.3 344.5h2.0v2.6h-2.0zM148.7 344.5h2.0v2.6h-2.0zM152.9 344.5h2.0v2.6h-2.0zM155.2 344.5h2.0v2.6h-2.0zM157.6 344.5h2.0v2.6h-2.0zM165.4 375.1h2.0v2.6h-2.0zM160.9 379.5h1.9v2.6h-1.9zM162.8 379.5h1.9v2.6h-1.9zM154.2 383.8h2.0v2.6h-2.0zM156.4 383.8h2.0v2.6h-2.0zM158.7 383.8h2.0v2.6h-2.0zM160.9 383.8h2.0v2.6h-2.0zM163.2 383.8h2.0v2.6h-2.0zM136.1 414.4h1.8v2.6h-1.8zM137.8 414.4h1.8v2.6h-1.8zM141.1 414.4h2.0v2.6h-2.0zM136.1 418.8h1.5v2.6h-1.5z"/>
<path fill="#981840" d="M136.3 348.9h2.0v2.6h-2.0zM157.7 353.3h2.0v2.6h-2.0zM145.1 388.2h2.0v2.6h-2.0zM145.1 392.6h2.0v2.6h-2.0zM138.3 401.3h2.0v2.6h-2.0z"/>
<path fill="#b02030" d="M138.6 348.9h2.0v2.6h-2.0zM155.4 353.3h2.0v2.6h-2.0zM150.5 362.0h2.0v2.6h-2.0zM152.9 370.7h2.0v2.6h-2.0zM149.7 375.1h2.0v2.6h-2.0zM142.5 396.9h2.0v2.6h-2.0z"/>
<path fill="#a82038" d="M140.9 348.9h2.0v2.6h-2.0z"/>
<path fill="#a02038" d="M143.2 348.9h2.0v2.6h-2.0zM140.8 379.5h2.0v2.6h-2.0zM136.2 401.3h2.0v2.6h-2.0z"/>
<path fill="#881848" d="M145.4 348.9h2.0v2.6h-2.0zM151.9 375.1h2.0v2.6h-2.0z"/>
<path fill="#682050" d="M147.7 348.9h2.0v2.6h-2.0z"/>
<path fill="#482060" d="M150.0 348.9h2.0v2.6h-2.0zM149.8 379.5h2.0v2.6h-2.0z"/>
<path fill="#382068" d="M152.3 348.9h2.0v2.6h-2.0zM157.6 362.0h2.0v2.6h-2.0zM160.0 366.4h2.0v2.6h-2.0zM156.4 375.1h2.0v2.6h-2.0zM152.0 379.5h2.0v2.6h-2.0zM147.5 383.8h2.0v2.6h-2.0zM144.5 401.3h2.0v2.6h-2.0zM136.5 405.7h2.0v2.6h-2.0zM139.3 405.7h2.0v2.6h-2.0z"/>
<path fill="#302070" d="M154.6 348.9h2.0v2.6h-2.0zM156.9 348.9h2.0v2.6h-2.0zM164.7 362.0h2.0v2.6h-2.0z"/>
<path fill="#302870" d="M159.1 348.9h2.0v2.6h-2.0zM161.4 348.9h2.0v2.6h-2.0zM162.3 366.4h2.0v2.6h-2.0zM162.3 370.7h2.0v2.6h-2.0zM160.9 375.1h2.0v2.6h-2.0zM156.5 379.5h2.0v2.6h-2.0zM149.7 383.8h2.0v2.6h-2.0zM143.9 405.7h1.8v2.6h-1.8z"/>
<path fill="#e04820" d="M136.2 353.3h2.4v2.6h-2.4zM140.9 353.3h2.4v2.6h-2.4zM143.3 353.3h2.4v2.6h-2.4zM145.6 362.0h2.4v2.6h-2.4zM136.2 396.9h2.1v2.6h-2.1z"/>
<path fill="#e05020" d="M138.5 353.3h2.4v2.6h-2.4z"/>
<path fill="#d84020" d="M145.9 353.3h2.0v2.6h-2.0z"/>
<path fill="#d83020" d="M148.2 353.3h2.0v2.6h-2.0zM150.5 370.7h2.0v2.6h-2.0zM142.9 388.2h2.0v2.6h-2.0z"/>
<path fill="#d02820" d="M150.6 353.3h2.0v2.6h-2.0zM148.2 362.0h2.0v2.6h-2.0zM147.5 375.1h2.0v2.6h-2.0zM142.9 392.6h2.0v2.6h-2.0zM140.4 396.9h2.0v2.6h-2.0z"/>
<path fill="#c82028" d="M153.0 353.3h2.0v2.6h-2.0zM136.3 379.5h2.0v2.6h-2.0z"/>
<path fill="#781848" d="M160.1 353.3h2.0v2.6h-2.0zM145.3 379.5h2.0v2.6h-2.0z"/>
<path fill="#602058" d="M162.5 353.3h2.0v2.6h-2.0zM164.7 357.6h2.0v2.6h-2.0zM154.2 375.1h2.0v2.6h-2.0zM147.5 379.5h2.0v2.6h-2.0zM142.5 401.3h2.0v2.6h-2.0z"/>
<path fill="#e87820" d="M136.2 357.6h2.4v2.6h-2.4zM143.3 357.6h2.4v2.6h-2.4zM140.6 375.1h2.3v2.6h-2.3z"/>
<path fill="#f08020" d="M138.5 357.6h2.4v2.6h-2.4zM140.9 357.6h2.4v2.6h-2.4z"/>
<path fill="#e86820" d="M145.6 357.6h2.4v2.6h-2.4zM136.2 383.8h2.3v2.6h-2.3z"/>
<path fill="#e85020" d="M148.0 357.6h2.4v2.6h-2.4zM138.4 383.8h2.3v2.6h-2.3zM140.6 392.6h2.2v2.6h-2.2z"/>
<path fill="#e04020" d="M150.3 357.6h2.4v2.6h-2.4zM145.1 375.1h2.3v2.6h-2.3zM138.3 396.9h2.1v2.6h-2.1z"/>
<path fill="#d83820" d="M152.9 357.6h2.0v2.6h-2.0zM150.5 366.4h2.0v2.6h-2.0zM140.8 383.8h2.0v2.6h-2.0z"/>
<path fill="#d02028" d="M155.2 357.6h2.0v2.6h-2.0z"/>
<path fill="#b82030" d="M157.6 357.6h2.0v2.6h-2.0zM152.9 366.4h2.0v2.6h-2.0zM138.5 379.5h2.0v2.6h-2.0zM143.0 383.8h2.0v2.6h-2.0z"/>
<path fill="#a01838" d="M160.0 357.6h2.0v2.6h-2.0z"/>
<path fill="#801848" d="M162.3 357.6h2.0v2.6h-2.0zM152.9 362.0h2.0v2.6h-2.0zM155.2 366.4h2.0v2.6h-2.0zM155.2 370.7h2.0v2.6h-2.0zM140.4 401.3h2.0v2.6h-2.0z"/>
<path fill="#f0b030" d="M136.2 362.0h2.4v2.6h-2.4z"/>
<path fill="#f0a828" d="M138.5 362.0h2.4v2.6h-2.4zM136.2 388.2h2.2v2.6h-2.2z"/>
<path fill="#f09020" d="M140.9 362.0h2.4v2.6h-2.4zM138.4 375.1h2.3v2.6h-2.3z"/>
<path fill="#e87020" d="M143.3 362.0h2.4v2.6h-2.4z"/>
<path fill="#582060" d="M155.2 362.0h2.0v2.6h-2.0z"/>
<path fill="#382070" d="M160.0 362.0h2.0v2.6h-2.0zM162.3 362.0h2.0v2.6h-2.0zM160.0 370.7h2.0v2.6h-2.0zM158.7 375.1h2.0v2.6h-2.0zM154.3 379.5h2.0v2.6h-2.0z"/>
<path fill="#f8f090" d="M136.2 366.4h2.4v2.6h-2.4z"/>
<path fill="#f8f088" d="M138.5 366.4h2.4v2.6h-2.4zM136.2 370.7h2.4v2.6h-2.4z"/>
<path fill="#f8e868" d="M140.9 366.4h2.4v2.6h-2.4z"/>
<path fill="#f8d840" d="M143.3 366.4h2.4v2.6h-2.4z"/>
<path fill="#f0a028" d="M145.6 366.4h2.4v2.6h-2.4z"/>
<path fill="#e86020" d="M148.0 366.4h2.4v2.6h-2.4zM140.6 388.2h2.2v2.6h-2.2z"/>
<path fill="#502060" d="M157.6 366.4h2.0v2.6h-2.0zM157.6 370.7h2.0v2.6h-2.0z"/>
<path fill="#302878" d="M164.7 366.4h2.0v2.6h-2.0zM164.7 370.7h2.0v2.6h-2.0zM163.1 375.1h2.0v2.6h-2.0zM152.0 383.8h2.0v2.6h-2.0zM145.7 405.7h1.8v2.6h-1.8zM136.1 410.0h1.8v2.6h-1.8zM137.8 410.0h1.8v2.6h-1.8z"/>
<path fill="#f8e878" d="M138.5 370.7h2.4v2.6h-2.4z"/>
<path fill="#f8e060" d="M140.9 370.7h2.4v2.6h-2.4z"/>
<path fill="#f8d040" d="M143.3 370.7h2.4v2.6h-2.4z"/>
<path fill="#f09828" d="M145.6 370.7h2.4v2.6h-2.4zM136.2 375.1h2.3v2.6h-2.3zM136.2 392.6h2.2v2.6h-2.2z"/>
<path fill="#e85820" d="M148.0 370.7h2.4v2.6h-2.4zM142.9 375.1h2.3v2.6h-2.3z"/>
<path fill="#901840" d="M143.0 379.5h2.0v2.6h-2.0z"/>
<path fill="#702050" d="M145.2 383.8h2.0v2.6h-2.0z"/>
<path fill="#f09028" d="M138.4 388.2h2.2v2.6h-2.2z"/>
<path fill="#f08820" d="M138.4 392.6h2.2v2.6h-2.2z"/>
<path fill="#781850" d="M144.5 396.9h2.0v2.6h-2.0z"/>
<path fill="#8888a2" d="M490.2 318.6h1.4v2.0h-1.4zM490.2 323.0h1.4v2.0h-1.4zM525.2 323.0h1.4v2.0h-1.4zM529.6 323.0h1.4v2.0h-1.4zM535.1 323.0h1.4v2.0h-1.4zM540.5 323.0h1.4v2.0h-1.4zM548.2 323.0h1.4v2.0h-1.4zM501.2 327.4h1.4v2.0h-1.4zM504.0 327.4h1.4v2.0h-1.4zM544.6 327.4h1.4v2.0h-1.4zM553.8 327.4h1.4v2.0h-1.4zM563.3 327.4h1.4v2.0h-1.4zM604.5 327.4h1.4v2.0h-1.4zM621.5 327.4h1.4v2.0h-1.4zM637.2 327.4h1.4v2.0h-1.4zM547.0 331.7h1.4v2.0h-1.4zM549.9 331.7h1.4v2.0h-1.4zM586.9 331.7h1.4v2.0h-1.4zM676.8 331.7h1.4v2.0h-1.4zM689.8 331.7h1.4v2.0h-1.4zM698.0 331.7h1.4v2.0h-1.4zM480.8 336.1h1.4v2.0h-1.4zM583.6 336.1h1.4v2.0h-1.4zM640.4 336.1h1.4v2.0h-1.4zM652.2 336.1h1.4v2.0h-1.4zM663.8 336.1h1.4v2.0h-1.4zM698.0 336.1h1.4v2.0h-1.4zM564.4 340.5h1.4v2.0h-1.4zM568.8 340.5h1.4v2.0h-1.4zM593.0 340.5h1.4v2.0h-1.4zM598.4 340.5h1.4v2.0h-1.4zM606.1 340.5h1.4v2.0h-1.4zM610.2 340.5h1.4v2.0h-1.4zM619.0 340.5h1.4v2.0h-1.4zM621.7 340.5h1.4v2.0h-1.4zM629.6 340.5h1.4v2.0h-1.4zM698.0 340.5h1.4v2.0h-1.4zM560.6 344.8h1.4v2.0h-1.4zM568.8 344.8h1.4v2.0h-1.4zM594.9 344.8h1.4v2.0h-1.4zM604.5 344.8h1.4v2.0h-1.4zM664.4 344.8h1.4v2.0h-1.4zM556.5 349.2h1.4v2.0h-1.4zM561.1 349.2h1.4v2.0h-1.4zM607.2 349.2h1.4v2.0h-1.4zM612.7 349.2h1.4v2.0h-1.4zM619.8 349.2h1.4v2.0h-1.4zM625.8 349.2h1.4v2.0h-1.4zM633.7 349.2h1.4v2.0h-1.4zM674.4 349.2h1.4v2.0h-1.4zM684.4 349.2h1.4v2.0h-1.4zM514.8 353.6h1.4v2.0h-1.4zM556.8 353.6h1.4v2.0h-1.4zM600.1 353.6h1.4v2.0h-1.4zM608.9 353.6h1.4v2.0h-1.4zM634.0 353.6h1.4v2.0h-1.4zM694.5 353.6h1.4v2.0h-1.4zM549.0 357.9h1.4v2.0h-1.4zM553.7 357.9h1.4v2.0h-1.4zM582.7 357.9h1.4v2.0h-1.4zM585.3 357.9h1.4v2.0h-1.4zM588.4 357.9h1.4v2.0h-1.4zM591.9 357.9h1.4v2.0h-1.4zM650.8 357.9h1.4v2.0h-1.4zM655.5 357.9h1.4v2.0h-1.4zM662.1 357.9h1.4v2.0h-1.4zM557.6 362.3h1.4v2.0h-1.4zM585.1 362.3h1.4v2.0h-1.4zM589.2 362.3h1.4v2.0h-1.4zM593.3 362.3h1.4v2.0h-1.4zM597.6 362.3h1.4v2.0h-1.4zM601.3 362.3h1.4v2.0h-1.4zM607.2 362.3h1.4v2.0h-1.4zM609.8 362.3h1.4v2.0h-1.4zM645.5 362.3h1.4v2.0h-1.4zM659.1 362.3h1.4v2.0h-1.4zM662.6 362.3h1.4v2.0h-1.4zM688.6 362.3h1.4v2.0h-1.4zM704.5 362.3h1.4v2.0h-1.4zM709.2 362.3h1.4v2.0h-1.4zM546.0 366.7h1.4v2.0h-1.4zM550.1 366.7h1.4v2.0h-1.4zM555.0 366.7h1.4v2.0h-1.4zM562.0 366.7h1.4v2.0h-1.4zM565.7 366.7h1.4v2.0h-1.4zM570.9 366.7h1.4v2.0h-1.4zM573.8 366.7h1.4v2.0h-1.4zM592.1 366.7h1.4v2.0h-1.4zM598.8 366.7h1.4v2.0h-1.4zM604.5 366.7h1.4v2.0h-1.4zM607.4 366.7h1.4v2.0h-1.4zM626.4 366.7h1.4v2.0h-1.4zM629.6 366.7h1.4v2.0h-1.4zM651.4 366.7h1.4v2.0h-1.4zM662.2 366.7h1.4v2.0h-1.4zM665.1 366.7h1.4v2.0h-1.4zM540.7 371.0h1.4v2.0h-1.4zM543.9 371.0h1.4v2.0h-1.4zM562.4 371.0h1.4v2.0h-1.4zM572.0 371.0h1.4v2.0h-1.4zM602.2 371.0h1.4v2.0h-1.4zM629.2 371.0h1.4v2.0h-1.4zM631.8 371.0h1.4v2.0h-1.4zM515.8 375.4h1.4v2.0h-1.4zM530.8 375.4h1.4v2.0h-1.4zM535.8 375.4h1.4v2.0h-1.4zM539.1 375.4h1.4v2.0h-1.4zM542.4 375.4h1.4v2.0h-1.4zM554.8 375.4h1.4v2.0h-1.4zM619.4 375.4h1.4v2.0h-1.4zM523.0 379.8h1.4v2.0h-1.4zM534.5 379.8h1.4v2.0h-1.4zM545.5 379.8h1.4v2.0h-1.4zM568.6 379.8h1.4v2.0h-1.4zM574.3 379.8h1.4v2.0h-1.4zM591.4 379.8h1.4v2.0h-1.4zM556.3 384.1h1.4v2.0h-1.4zM583.7 384.1h1.4v2.0h-1.4zM595.6 384.1h1.4v2.0h-1.4zM598.6 384.1h1.4v2.0h-1.4zM506.7 388.5h1.4v2.0h-1.4zM491.2 392.9h1.4v2.0h-1.4zM500.7 392.9h1.4v2.0h-1.4zM504.4 392.9h1.4v2.0h-1.4zM508.7 392.9h1.4v2.0h-1.4zM497.2 397.2h1.4v2.0h-1.4zM508.7 397.2h1.4v2.0h-1.4zM497.2 401.6h1.4v2.0h-1.4zM495.9 406.0h1.4v2.0h-1.4zM491.6 423.4h1.4v2.0h-1.4zM479.6 427.8h1.4v2.0h-1.4zM483.6 427.8h1.4v2.0h-1.4zM491.3 427.8h1.4v2.0h-1.4zM480.0 432.1h1.4v2.0h-1.4zM491.3 432.1h1.4v2.0h-1.4zM483.6 436.5h1.4v2.0h-1.4zM489.4 436.5h1.4v2.0h-1.4zM478.8 475.8h1.4v2.0h-1.4z"/>
<path fill="#6c6c94" d="M517.4 322.9h1.8v2.3h-1.8zM519.5 322.9h1.8v2.3h-1.8zM485.5 327.2h1.8v2.3h-1.8zM487.6 327.2h1.8v2.3h-1.8zM489.7 327.2h1.8v2.3h-1.8zM491.8 327.2h1.8v2.3h-1.8zM493.9 327.2h1.8v2.3h-1.8zM515.7 327.2h1.8v2.3h-1.8zM517.9 327.2h1.8v2.3h-1.8zM520.1 327.2h1.8v2.3h-1.8zM522.3 327.2h1.8v2.3h-1.8zM524.5 327.2h1.8v2.3h-1.8zM642.8 327.2h1.8v2.3h-1.8zM644.8 327.2h1.8v2.3h-1.8zM646.7 327.2h1.8v2.3h-1.8zM498.2 331.6h1.8v2.3h-1.8zM500.4 331.6h1.8v2.3h-1.8zM502.6 331.6h1.8v2.3h-1.8zM504.7 331.6h1.8v2.3h-1.8zM506.9 331.6h1.8v2.3h-1.8zM511.3 331.6h1.8v2.3h-1.8zM513.5 331.6h1.8v2.3h-1.8zM515.7 331.6h1.8v2.3h-1.8zM517.9 331.6h1.8v2.3h-1.8zM520.1 331.6h1.8v2.3h-1.8zM525.7 331.6h1.8v2.3h-1.8zM528.1 331.6h1.8v2.3h-1.8zM530.6 331.6h1.8v2.3h-1.8zM533.0 331.6h1.8v2.3h-1.8zM535.4 331.6h1.8v2.3h-1.8zM568.6 331.6h1.8v2.3h-1.8zM570.7 331.6h1.8v2.3h-1.8zM572.8 331.6h1.8v2.3h-1.8zM574.9 331.6h1.8v2.3h-1.8zM577.0 331.6h1.8v2.3h-1.8zM643.0 331.6h1.8v2.3h-1.8zM645.4 331.6h1.8v2.3h-1.8zM647.7 331.6h1.8v2.3h-1.8zM499.3 335.9h1.8v2.3h-1.8zM501.6 335.9h1.8v2.3h-1.8zM503.9 335.9h1.8v2.3h-1.8zM506.3 335.9h1.8v2.3h-1.8zM508.6 335.9h1.8v2.3h-1.8zM511.0 335.9h1.8v2.3h-1.8zM513.3 335.9h1.8v2.3h-1.8zM515.6 335.9h1.8v2.3h-1.8zM520.2 335.9h1.8v2.3h-1.8zM522.7 335.9h1.8v2.3h-1.8zM525.2 335.9h1.8v2.3h-1.8zM527.7 335.9h1.8v2.3h-1.8zM534.5 335.9h1.8v2.3h-1.8zM537.0 335.9h1.8v2.3h-1.8zM539.5 335.9h1.8v2.3h-1.8zM541.9 335.9h1.8v2.3h-1.8zM544.4 335.9h1.8v2.3h-1.8zM546.9 335.9h1.8v2.3h-1.8zM570.4 335.9h1.8v2.3h-1.8zM572.9 335.9h1.8v2.3h-1.8zM575.4 335.9h1.8v2.3h-1.8zM577.9 335.9h1.8v2.3h-1.8zM514.0 340.3h1.8v2.3h-1.8zM515.9 340.3h1.8v2.3h-1.8zM535.0 340.3h1.8v2.3h-1.8zM537.4 340.3h1.8v2.3h-1.8zM539.7 340.3h1.8v2.3h-1.8zM542.1 340.3h1.8v2.3h-1.8zM544.5 340.3h1.8v2.3h-1.8zM546.8 340.3h1.8v2.3h-1.8zM549.2 340.3h1.8v2.3h-1.8zM551.6 340.3h1.8v2.3h-1.8zM553.9 340.3h1.8v2.3h-1.8zM572.6 340.3h1.8v2.3h-1.8zM574.9 340.3h1.8v2.3h-1.8zM577.2 340.3h1.8v2.3h-1.8zM579.5 340.3h1.8v2.3h-1.8zM504.9 344.7h1.8v2.3h-1.8zM507.5 344.7h1.8v2.3h-1.8zM510.0 344.7h1.8v2.3h-1.8zM536.7 344.7h1.8v2.3h-1.8zM539.1 344.7h1.8v2.3h-1.8zM541.5 344.7h1.8v2.3h-1.8zM543.9 344.7h1.8v2.3h-1.8zM546.3 344.7h1.8v2.3h-1.8zM551.0 344.7h1.8v2.3h-1.8zM553.6 344.7h1.8v2.3h-1.8zM577.4 344.7h1.8v2.3h-1.8zM579.6 344.7h1.8v2.3h-1.8zM581.8 344.7h1.8v2.3h-1.8zM618.5 344.7h1.8v2.3h-1.8zM620.5 344.7h1.8v2.3h-1.8zM622.5 344.7h1.8v2.3h-1.8zM627.8 344.7h1.8v2.3h-1.8zM629.9 344.7h1.8v2.3h-1.8zM632.0 344.7h1.8v2.3h-1.8zM514.1 349.0h1.8v2.3h-1.8zM516.4 349.0h1.8v2.3h-1.8zM518.6 349.0h1.8v2.3h-1.8zM520.9 349.0h1.8v2.3h-1.8zM523.1 349.0h1.8v2.3h-1.8zM525.4 349.0h1.8v2.3h-1.8zM527.6 349.0h1.8v2.3h-1.8zM529.9 349.0h1.8v2.3h-1.8zM532.1 349.0h1.8v2.3h-1.8zM534.4 349.0h1.8v2.3h-1.8zM539.8 349.0h1.8v2.3h-1.8zM542.0 349.0h1.8v2.3h-1.8zM544.2 349.0h1.8v2.3h-1.8zM546.4 349.0h1.8v2.3h-1.8zM578.3 349.0h1.7v2.3h-1.7zM579.9 349.0h1.7v2.3h-1.7zM519.0 353.4h1.8v2.3h-1.8zM521.3 353.4h1.8v2.3h-1.8zM523.6 353.4h1.8v2.3h-1.8zM525.9 353.4h1.8v2.3h-1.8zM528.1 353.4h1.8v2.3h-1.8zM530.4 353.4h1.8v2.3h-1.8zM532.7 353.4h1.8v2.3h-1.8zM572.1 353.4h1.8v2.3h-1.8zM574.4 353.4h1.8v2.3h-1.8zM576.8 353.4h1.8v2.3h-1.8zM579.2 353.4h1.8v2.3h-1.8zM581.6 353.4h1.8v2.3h-1.8zM583.9 353.4h1.8v2.3h-1.8zM614.2 353.4h1.8v2.3h-1.8zM616.4 353.4h1.8v2.3h-1.8zM618.6 353.4h1.8v2.3h-1.8zM620.8 353.4h1.8v2.3h-1.8zM622.9 353.4h1.8v2.3h-1.8zM625.1 353.4h1.8v2.3h-1.8zM627.3 353.4h1.8v2.3h-1.8zM629.5 353.4h1.8v2.3h-1.8zM514.0 357.8h1.8v2.3h-1.8zM516.0 357.8h1.8v2.3h-1.8zM518.0 357.8h1.8v2.3h-1.8zM524.5 357.8h1.8v2.3h-1.8zM526.7 357.8h1.8v2.3h-1.8zM528.9 357.8h1.8v2.3h-1.8zM531.1 357.8h1.8v2.3h-1.8zM533.3 357.8h1.8v2.3h-1.8zM535.5 357.8h1.8v2.3h-1.8zM560.8 357.8h1.8v2.3h-1.8zM563.0 357.8h1.8v2.3h-1.8zM565.3 357.8h1.8v2.3h-1.8zM567.5 357.8h1.8v2.3h-1.8zM572.4 357.8h1.8v2.3h-1.8zM574.5 357.8h1.8v2.3h-1.8zM615.1 357.8h1.8v2.3h-1.8zM617.4 357.8h1.8v2.3h-1.8zM619.7 357.8h1.8v2.3h-1.8zM622.0 357.8h1.8v2.3h-1.8zM624.4 357.8h1.8v2.3h-1.8zM626.7 357.8h1.8v2.3h-1.8zM629.0 357.8h1.8v2.3h-1.8zM631.3 357.8h1.8v2.3h-1.8zM633.7 357.8h1.8v2.3h-1.8zM636.0 357.8h1.8v2.3h-1.8zM638.3 357.8h1.8v2.3h-1.8zM640.6 357.8h1.8v2.3h-1.8zM518.1 362.1h1.8v2.3h-1.8zM520.6 362.1h1.8v2.3h-1.8zM523.2 362.1h1.8v2.3h-1.8zM529.0 362.1h1.8v2.3h-1.8zM531.4 362.1h1.8v2.3h-1.8zM533.8 362.1h1.8v2.3h-1.8zM536.1 362.1h1.8v2.3h-1.8zM538.5 362.1h1.8v2.3h-1.8zM540.9 362.1h1.8v2.3h-1.8zM544.2 362.1h1.8v2.3h-1.8zM548.5 362.1h1.8v2.3h-1.8zM550.9 362.1h1.8v2.3h-1.8zM562.5 362.1h1.8v2.3h-1.8zM568.6 362.1h1.8v2.3h-1.8zM576.1 362.1h1.8v2.3h-1.8zM615.1 362.1h1.8v2.3h-1.8zM617.5 362.1h1.8v2.3h-1.8zM623.9 362.1h1.8v2.3h-1.8zM626.1 362.1h1.8v2.3h-1.8zM628.3 362.1h1.8v2.3h-1.8zM630.4 362.1h1.8v2.3h-1.8zM632.6 362.1h1.8v2.3h-1.8zM634.8 362.1h1.8v2.3h-1.8zM533.2 366.5h1.8v2.3h-1.8zM535.2 366.5h1.8v2.3h-1.8zM537.2 366.5h1.8v2.3h-1.8zM618.2 366.5h1.8v2.3h-1.8zM620.1 366.5h1.8v2.3h-1.8zM621.9 366.5h1.8v2.3h-1.8zM592.6 370.9h1.8v2.3h-1.8zM523.4 375.2h1.8v2.3h-1.8zM525.6 375.2h1.8v2.3h-1.8zM562.1 375.2h1.8v2.3h-1.8zM564.2 375.2h1.8v2.3h-1.8zM595.0 375.2h1.8v2.3h-1.8zM597.1 375.2h1.8v2.3h-1.8zM599.1 375.2h1.8v2.3h-1.8zM507.3 379.6h1.8v2.3h-1.8zM509.1 379.6h1.8v2.3h-1.8zM511.0 379.6h1.8v2.3h-1.8zM562.6 379.6h1.8v2.3h-1.8zM564.4 379.6h1.8v2.3h-1.8zM597.8 379.6h1.8v2.3h-1.8zM503.7 384.0h1.8v2.3h-1.8zM506.0 384.0h1.8v2.3h-1.8zM508.4 384.0h1.8v2.3h-1.8zM510.7 384.0h1.8v2.3h-1.8zM562.5 384.0h1.8v2.3h-1.8zM494.2 392.7h1.8v2.3h-1.8zM496.1 392.7h1.8v2.3h-1.8zM488.9 410.2h1.8v2.3h-1.8zM491.0 410.2h1.8v2.3h-1.8zM493.1 410.2h1.8v2.3h-1.8zM489.6 414.5h1.8v2.3h-1.8zM491.7 414.5h1.8v2.3h-1.8zM490.3 418.9h1.8v2.3h-1.8zM492.4 418.9h1.8v2.3h-1.8zM480.4 423.3h1.8v2.3h-1.8zM482.5 423.3h1.8v2.3h-1.8zM479.5 436.4h1.5v2.3h-1.5zM479.7 440.7h1.8v2.3h-1.8zM484.1 440.7h1.8v2.3h-1.8zM486.6 440.7h1.8v2.3h-1.8zM479.0 462.6h1.8v2.3h-1.8zM481.1 462.6h1.8v2.3h-1.8zM479.4 466.9h1.8v2.3h-1.8zM479.4 471.3h1.8v2.3h-1.8z"/>
<path fill="#282880" d="M484.9 331.4h2.0v2.6h-2.0zM487.1 331.4h2.0v2.6h-2.0zM489.3 331.4h2.0v2.6h-2.0zM491.5 331.4h2.0v2.6h-2.0zM493.7 331.4h2.0v2.6h-2.0zM495.9 331.4h2.0v2.6h-2.0zM484.2 335.8h2.0v2.6h-2.0zM486.4 335.8h2.0v2.6h-2.0zM488.5 335.8h2.0v2.6h-2.0zM490.6 335.8h2.0v2.6h-2.0zM492.7 335.8h2.0v2.6h-2.0zM494.8 335.8h2.0v2.6h-2.0zM479.5 340.2h2.0v2.6h-2.0zM481.8 340.2h2.0v2.6h-2.0zM484.2 340.2h2.0v2.6h-2.0zM486.5 340.2h2.0v2.6h-2.0zM488.9 340.2h2.0v2.6h-2.0zM491.3 340.2h2.0v2.6h-2.0zM493.6 340.2h2.0v2.6h-2.0zM496.0 340.2h2.0v2.6h-2.0zM498.3 340.2h2.0v2.6h-2.0zM500.7 340.2h2.0v2.6h-2.0zM503.1 340.2h2.0v2.6h-2.0zM505.4 340.2h2.0v2.6h-2.0zM507.8 340.2h2.0v2.6h-2.0zM521.0 340.2h2.0v2.6h-2.0zM523.1 340.2h2.0v2.6h-2.0zM525.2 340.2h2.0v2.6h-2.0zM527.3 340.2h2.0v2.6h-2.0zM529.3 340.2h2.0v2.6h-2.0zM519.4 344.5h2.0v2.6h-2.0zM521.6 344.5h2.0v2.6h-2.0zM523.8 344.5h2.0v2.6h-2.0zM526.0 344.5h2.0v2.6h-2.0zM528.2 344.5h2.0v2.6h-2.0zM530.4 344.5h2.0v2.6h-2.0zM532.6 344.5h2.0v2.6h-2.0zM542.4 353.3h2.0v2.6h-2.0zM545.0 353.3h2.0v2.6h-2.0zM545.2 357.6h2.0v2.6h-2.0zM527.1 370.7h2.0v2.6h-2.0zM529.3 370.7h2.0v2.6h-2.0zM531.5 370.7h2.0v2.6h-2.0zM479.9 410.0h2.0v2.6h-2.0zM479.5 414.4h2.0v2.6h-2.0zM481.7 414.4h2.0v2.6h-2.0zM483.8 414.4h2.0v2.6h-2.0zM479.6 418.8h2.0v2.6h-2.0zM481.7 418.8h2.0v2.6h-2.0zM478.9 444.9h2.0v2.6h-2.0zM481.2 444.9h2.0v2.6h-2.0zM483.4 444.9h2.0v2.6h-2.0zM478.6 449.3h2.0v2.6h-2.0zM480.8 449.3h2.0v2.6h-2.0zM482.9 449.3h2.0v2.6h-2.0zM478.9 453.7h2.0v2.6h-2.0zM481.5 453.7h2.0v2.6h-2.0zM478.6 458.0h2.0v2.6h-2.0zM480.7 458.0h2.0v2.6h-2.0z"/>
<path fill="#282878" d="M479.4 344.5h2.0v2.6h-2.0zM481.7 344.5h2.0v2.6h-2.0zM484.0 344.5h2.0v2.6h-2.0zM486.3 344.5h2.0v2.6h-2.0zM488.6 344.5h2.0v2.6h-2.0zM490.9 344.5h2.0v2.6h-2.0zM493.2 344.5h2.0v2.6h-2.0zM495.5 344.5h2.0v2.6h-2.0zM497.8 344.5h2.0v2.6h-2.0zM500.1 344.5h2.0v2.6h-2.0zM515.1 344.5h2.0v2.6h-2.0zM517.3 344.5h2.0v2.6h-2.0zM539.9 353.3h2.0v2.6h-2.0zM540.2 357.6h2.0v2.6h-2.0zM542.7 357.6h2.0v2.6h-2.0zM517.0 366.4h2.0v2.6h-2.0zM519.3 366.4h2.0v2.6h-2.0zM521.7 366.4h2.0v2.6h-2.0zM524.0 366.4h2.0v2.6h-2.0zM526.4 366.4h2.0v2.6h-2.0zM528.7 366.4h2.0v2.6h-2.0zM518.3 370.7h2.0v2.6h-2.0zM520.5 370.7h2.0v2.6h-2.0zM522.7 370.7h2.0v2.6h-2.0zM524.9 370.7h2.0v2.6h-2.0zM479.5 405.7h2.0v2.6h-2.0zM481.7 405.7h2.0v2.6h-2.0zM483.8 405.7h2.0v2.6h-2.0zM485.9 405.7h2.0v2.6h-2.0zM490.8 405.7h1.4v2.6h-1.4zM482.8 410.0h2.0v2.6h-2.0z"/>
<path fill="#302878" d="M479.4 348.9h2.0v2.6h-2.0zM481.7 348.9h2.0v2.6h-2.0zM514.6 366.4h2.0v2.6h-2.0zM515.0 370.7h1.0v2.6h-1.0zM511.2 375.1h2.0v2.6h-2.0zM479.5 401.3h2.0v2.6h-2.0zM482.1 401.3h2.0v2.6h-2.0zM484.6 401.3h2.0v2.6h-2.0zM487.1 401.3h2.0v2.6h-2.0zM489.6 401.3h2.0v2.6h-2.0z"/>
<path fill="#302870" d="M484.0 348.9h2.0v2.6h-2.0zM508.9 348.9h2.0v2.6h-2.0zM509.2 375.1h2.0v2.6h-2.0zM502.0 388.2h2.0v2.6h-2.0z"/>
<path fill="#382070" d="M486.2 348.9h2.0v2.6h-2.0zM488.5 348.9h2.0v2.6h-2.0zM502.1 348.9h2.0v2.6h-2.0zM504.4 348.9h2.0v2.6h-2.0zM507.2 375.1h2.0v2.6h-2.0zM499.9 388.2h2.0v2.6h-2.0z"/>
<path fill="#382068" d="M490.8 348.9h2.0v2.6h-2.0zM493.0 348.9h2.0v2.6h-2.0zM495.3 348.9h2.0v2.6h-2.0zM497.6 348.9h2.0v2.6h-2.0zM499.9 348.9h2.0v2.6h-2.0zM479.5 353.3h2.0v2.6h-2.0zM509.9 366.4h2.0v2.6h-2.0zM508.4 370.7h2.0v2.6h-2.0zM505.1 375.1h2.0v2.6h-2.0zM499.7 379.5h2.0v2.6h-2.0zM500.1 383.8h2.0v2.6h-2.0zM488.6 396.9h2.0v2.6h-2.0z"/>
<path fill="#302070" d="M506.7 348.9h2.0v2.6h-2.0zM512.3 366.4h2.0v2.6h-2.0zM510.7 370.7h2.0v2.6h-2.0z"/>
<path fill="#602058" d="M481.8 353.3h2.0v2.6h-2.0z"/>
<path fill="#981840" d="M484.2 353.3h2.0v2.6h-2.0zM498.3 375.1h2.0v2.6h-2.0z"/>
<path fill="#c82028" d="M486.5 353.3h2.0v2.6h-2.0zM505.3 353.3h2.0v2.6h-2.0zM493.2 383.8h2.0v2.6h-2.0z"/>
<path fill="#d83820" d="M488.9 353.3h2.0v2.6h-2.0zM500.6 353.3h2.0v2.6h-2.0zM500.6 366.4h2.0v2.6h-2.0zM479.5 375.1h2.0v2.6h-2.0zM491.3 375.1h2.0v2.6h-2.0zM490.7 379.5h2.0v2.6h-2.0z"/>
<path fill="#e04820" d="M491.0 353.3h2.4v2.6h-2.4zM493.4 353.3h2.4v2.6h-2.4zM495.7 353.3h2.4v2.6h-2.4zM483.9 357.6h2.4v2.6h-2.4zM479.3 362.0h2.4v2.6h-2.4zM497.9 362.0h2.4v2.6h-2.4zM486.4 375.1h2.4v2.6h-2.4z"/>
<path fill="#e04020" d="M498.3 353.3h2.0v2.6h-2.0zM507.2 357.6h2.0v2.6h-2.0zM479.4 370.7h2.0v2.6h-2.0zM481.8 375.1h2.0v2.6h-2.0zM484.2 375.1h2.0v2.6h-2.0zM488.7 375.1h2.4v2.6h-2.4zM488.2 388.2h2.0v2.6h-2.0z"/>
<path fill="#d02820" d="M503.0 353.3h2.0v2.6h-2.0zM481.7 357.6h2.0v2.6h-2.0zM509.5 357.6h2.0v2.6h-2.0zM500.4 362.0h2.0v2.6h-2.0zM493.6 375.1h2.0v2.6h-2.0zM490.4 388.2h2.0v2.6h-2.0z"/>
<path fill="#a82038" d="M507.7 353.3h2.0v2.6h-2.0zM486.9 392.6h2.0v2.6h-2.0z"/>
<path fill="#901840" d="M510.0 353.3h2.0v2.6h-2.0zM507.4 362.0h2.0v2.6h-2.0zM495.5 383.8h2.0v2.6h-2.0z"/>
<path fill="#a02038" d="M479.4 357.6h2.0v2.6h-2.0zM505.1 362.0h2.0v2.6h-2.0z"/>
<path fill="#e85820" d="M486.2 357.6h2.4v2.6h-2.4zM504.7 357.6h2.4v2.6h-2.4zM488.3 379.5h2.3v2.6h-2.3zM479.3 388.2h2.2v2.6h-2.2z"/>
<path fill="#f09020" d="M488.5 357.6h2.4v2.6h-2.4zM486.2 383.8h2.3v2.6h-2.3z"/>
<path fill="#f8b830" d="M490.8 357.6h2.4v2.6h-2.4zM481.6 383.8h2.3v2.6h-2.3z"/>
<path fill="#f8c038" d="M493.2 357.6h2.4v2.6h-2.4zM495.5 357.6h2.4v2.6h-2.4z"/>
<path fill="#f0b030" d="M497.8 357.6h2.4v2.6h-2.4zM492.7 370.7h2.3v2.6h-2.3zM483.9 383.8h2.3v2.6h-2.3z"/>
<path fill="#f09828" d="M500.1 357.6h2.4v2.6h-2.4zM481.5 379.5h2.3v2.6h-2.3zM483.8 379.5h2.3v2.6h-2.3zM479.3 383.8h2.3v2.6h-2.3z"/>
<path fill="#e87820" d="M502.4 357.6h2.4v2.6h-2.4zM495.6 362.0h2.4v2.6h-2.4z"/>
<path fill="#f0a028" d="M481.6 362.0h2.4v2.6h-2.4z"/>
<path fill="#f8e050" d="M483.9 362.0h2.4v2.6h-2.4zM488.2 370.7h2.3v2.6h-2.3z"/>
<path fill="#f8e060" d="M486.3 362.0h2.4v2.6h-2.4z"/>
<path fill="#f8e058" d="M488.6 362.0h2.4v2.6h-2.4zM486.0 370.7h2.3v2.6h-2.3z"/>
<path fill="#f8d840" d="M490.9 362.0h2.4v2.6h-2.4zM483.7 370.7h2.3v2.6h-2.3z"/>
<path fill="#f0a830" d="M493.3 362.0h2.4v2.6h-2.4zM495.7 366.4h2.4v2.6h-2.4z"/>
<path fill="#b82030" d="M502.8 362.0h2.0v2.6h-2.0zM501.7 370.7h2.0v2.6h-2.0zM496.0 375.1h2.0v2.6h-2.0zM479.5 392.6h2.0v2.6h-2.0zM484.5 392.6h2.0v2.6h-2.0z"/>
<path fill="#702050" d="M509.7 362.0h2.0v2.6h-2.0zM500.7 375.1h2.0v2.6h-2.0z"/>
<path fill="#582058" d="M512.1 362.0h2.0v2.6h-2.0zM506.2 370.7h2.0v2.6h-2.0zM497.4 379.5h2.0v2.6h-2.0zM497.8 383.8h2.0v2.6h-2.0z"/>
<path fill="#402068" d="M514.4 362.0h2.0v2.6h-2.0zM497.9 388.2h2.0v2.6h-2.0zM479.4 396.9h2.0v2.6h-2.0zM486.3 396.9h2.0v2.6h-2.0z"/>
<path fill="#e86820" d="M479.3 366.4h2.4v2.6h-2.4zM498.0 366.4h2.4v2.6h-2.4zM488.5 383.8h2.3v2.6h-2.3zM483.7 388.2h2.2v2.6h-2.2z"/>
<path fill="#f8d848" d="M481.6 366.4h2.4v2.6h-2.4z"/>
<path fill="#f8f088" d="M484.0 366.4h2.4v2.6h-2.4z"/>
<path fill="#f8f8a0" d="M486.3 366.4h2.4v2.6h-2.4z"/>
<path fill="#f8f090" d="M488.7 366.4h2.4v2.6h-2.4z"/>
<path fill="#f8e878" d="M491.0 366.4h2.4v2.6h-2.4z"/>
<path fill="#f8e048" d="M493.3 366.4h2.4v2.6h-2.4z"/>
<path fill="#c02030" d="M502.9 366.4h2.0v2.6h-2.0z"/>
<path fill="#881848" d="M505.2 366.4h2.0v2.6h-2.0zM504.0 370.7h2.0v2.6h-2.0z"/>
<path fill="#502060" d="M507.6 366.4h2.0v2.6h-2.0z"/>
<path fill="#f09028" d="M481.5 370.7h2.3v2.6h-2.3z"/>
<path fill="#f8d040" d="M490.4 370.7h2.3v2.6h-2.3z"/>
<path fill="#f08020" d="M494.9 370.7h2.3v2.6h-2.3zM479.3 379.5h2.3v2.6h-2.3z"/>
<path fill="#e05020" d="M497.1 370.7h2.3v2.6h-2.3z"/>
<path fill="#d83020" d="M499.5 370.7h2.0v2.6h-2.0z"/>
<path fill="#e88020" d="M486.0 379.5h2.3v2.6h-2.3z"/>
<path fill="#c02028" d="M492.9 379.5h2.0v2.6h-2.0zM482.0 392.6h2.0v2.6h-2.0z"/>
<path fill="#881840" d="M495.2 379.5h2.0v2.6h-2.0z"/>
<path fill="#d84020" d="M490.9 383.8h2.0v2.6h-2.0z"/>
<path fill="#e87020" d="M481.5 388.2h2.2v2.6h-2.2z"/>
<path fill="#e85020" d="M485.9 388.2h2.2v2.6h-2.2z"/>
<path fill="#682058" d="M495.8 388.2h2.0v2.6h-2.0z"/>
<path fill="#482060" d="M481.7 396.9h2.0v2.6h-2.0zM484.0 396.9h2.0v2.6h-2.0z"/>
<path d="M129.90 222.80H134.90M129.90 202.40H134.90M129.90 182.00H134.90M129.90 161.60H134.90M129.90 141.20H134.90M129.90 120.80H134.90M129.90 100.40H134.90M129.90 80.00H134.90M129.90 59.60H134.90M134.90 222.80V228.80M193.72 222.80V228.80M252.55 222.80V228.80M311.38 222.80V228.80M370.20 222.80V228.80" stroke="#221f20" stroke-width="1.8" fill="none"/>
<rect x="134.90" y="59.60" width="235.30" height="163.20" stroke="#221f20" stroke-width="1.8" fill="none"/>
<text x="123.80" y="209.60" text-anchor="end" font-size="16.4">0.3</text>
<text x="123.80" y="168.80" text-anchor="end" font-size="16.4">0.4</text>
<text x="123.80" y="128.00" text-anchor="end" font-size="16.4">0.5</text>
<text x="123.80" y="87.20" text-anchor="end" font-size="16.4">0.6</text>
<text x="132.10" y="249.60" text-anchor="middle" font-size="16.4">0</text>
<text x="187.70" y="249.60" text-anchor="middle" font-size="16.4">2000</text>
<text x="246.20" y="249.60" text-anchor="middle" font-size="16.4">4000</text>
<text x="305.50" y="249.60" text-anchor="middle" font-size="16.4">6000</text>
<text x="364.50" y="249.60" text-anchor="middle" font-size="16.4">8000</text>
<text x="253.20" y="52.00" text-anchor="middle" font-size="16.4">cor = 0.273</text>
<text x="251.75" y="272.70" text-anchor="middle" font-size="20.8">mean coverage</text>
<text transform="translate(83.00,140.75) rotate(-90)" text-anchor="middle" font-size="20.8">A/U content [%]</text>
<path d="M472.60 222.80H477.60M472.60 202.40H477.60M472.60 182.00H477.60M472.60 161.60H477.60M472.60 141.20H477.60M472.60 120.80H477.60M472.60 100.40H477.60M472.60 80.00H477.60M472.60 59.60H477.60M477.60 222.80V228.80M536.33 222.80V228.80M595.05 222.80V228.80M653.77 222.80V228.80M712.50 222.80V228.80" stroke="#221f20" stroke-width="1.8" fill="none"/>
<rect x="477.60" y="59.60" width="234.90" height="163.20" stroke="#221f20" stroke-width="1.8" fill="none"/>
<text x="466.50" y="207.10" text-anchor="end" font-size="16.4">0.3</text>
<text x="466.50" y="166.30" text-anchor="end" font-size="16.4">0.4</text>
<text x="466.50" y="125.50" text-anchor="end" font-size="16.4">0.5</text>
<text x="466.50" y="84.70" text-anchor="end" font-size="16.4">0.6</text>
<text x="474.30" y="249.50" text-anchor="middle" font-size="16.4">0</text>
<text x="588.70" y="249.50" text-anchor="middle" font-size="16.4">2500</text>
<text x="706.90" y="249.50" text-anchor="middle" font-size="16.4">5000</text>
<text x="591.00" y="52.00" text-anchor="middle" font-size="16.4">cor = 0.358</text>
<text x="594.25" y="272.70" text-anchor="middle" font-size="20.8">mean coverage</text>
<text transform="translate(425.50,138.20) rotate(-90)" text-anchor="middle" font-size="20.8">A/U content [%]</text>
<path d="M129.90 479.70H134.90M129.90 459.30H134.90M129.90 438.90H134.90M129.90 418.50H134.90M129.90 398.10H134.90M129.90 377.70H134.90M129.90 357.30H134.90M129.90 336.90H134.90M129.90 316.50H134.90M134.90 479.70V485.70M193.72 479.70V485.70M252.55 479.70V485.70M311.38 479.70V485.70M370.20 479.70V485.70" stroke="#221f20" stroke-width="1.8" fill="none"/>
<rect x="134.90" y="316.50" width="235.30" height="163.20" stroke="#221f20" stroke-width="1.8" fill="none"/>
<text x="121.60" y="466.50" text-anchor="end" font-size="16.4">0.3</text>
<text x="121.60" y="425.70" text-anchor="end" font-size="16.4">0.4</text>
<text x="121.60" y="384.90" text-anchor="end" font-size="16.4">0.5</text>
<text x="121.60" y="344.10" text-anchor="end" font-size="16.4">0.6</text>
<text x="132.10" y="506.50" text-anchor="middle" font-size="16.4">0</text>
<text x="187.70" y="506.50" text-anchor="middle" font-size="16.4">2000</text>
<text x="246.20" y="506.50" text-anchor="middle" font-size="16.4">4000</text>
<text x="305.50" y="506.50" text-anchor="middle" font-size="16.4">6000</text>
<text x="364.50" y="506.50" text-anchor="middle" font-size="16.4">8000</text>
<text x="253.60" y="306.10" text-anchor="middle" font-size="16.4">cor = 0.334</text>
<text x="251.75" y="529.60" text-anchor="middle" font-size="20.8">mean coverage</text>
<text transform="translate(83.00,398.35) rotate(-90)" text-anchor="middle" font-size="20.8">A/U content [%]</text>
<path d="M472.60 479.70H477.60M472.60 459.30H477.60M472.60 438.90H477.60M472.60 418.50H477.60M472.60 398.10H477.60M472.60 377.70H477.60M472.60 357.30H477.60M472.60 336.90H477.60M472.60 316.50H477.60M477.60 479.70V485.70M536.33 479.70V485.70M595.05 479.70V485.70M653.77 479.70V485.70M712.50 479.70V485.70" stroke="#221f20" stroke-width="1.8" fill="none"/>
<rect x="477.60" y="316.50" width="234.90" height="163.20" stroke="#221f20" stroke-width="1.8" fill="none"/>
<text x="465.40" y="463.90" text-anchor="end" font-size="14.8">0.3</text>
<text x="465.40" y="423.10" text-anchor="end" font-size="14.8">0.4</text>
<text x="465.40" y="382.30" text-anchor="end" font-size="14.8">0.5</text>
<text x="465.40" y="341.50" text-anchor="end" font-size="14.8">0.6</text>
<text x="474.30" y="506.60" text-anchor="middle" font-size="16.4">0</text>
<text x="525.30" y="506.60" text-anchor="middle" font-size="16.4">250</text>
<text x="584.20" y="506.60" text-anchor="middle" font-size="16.4">500</text>
<text x="643.80" y="506.60" text-anchor="middle" font-size="16.4">750</text>
<text x="707.00" y="506.60" text-anchor="middle" font-size="16.4">1000</text>
<text x="589.80" y="305.80" text-anchor="middle" font-size="16.4">cor = 0.348</text>
<text x="594.25" y="529.60" text-anchor="middle" font-size="20.8">mean coverage</text>
<text transform="translate(425.50,398.05) rotate(-90)" text-anchor="middle" font-size="19.7">A/U content [%]</text>
</svg>
</body></html>
